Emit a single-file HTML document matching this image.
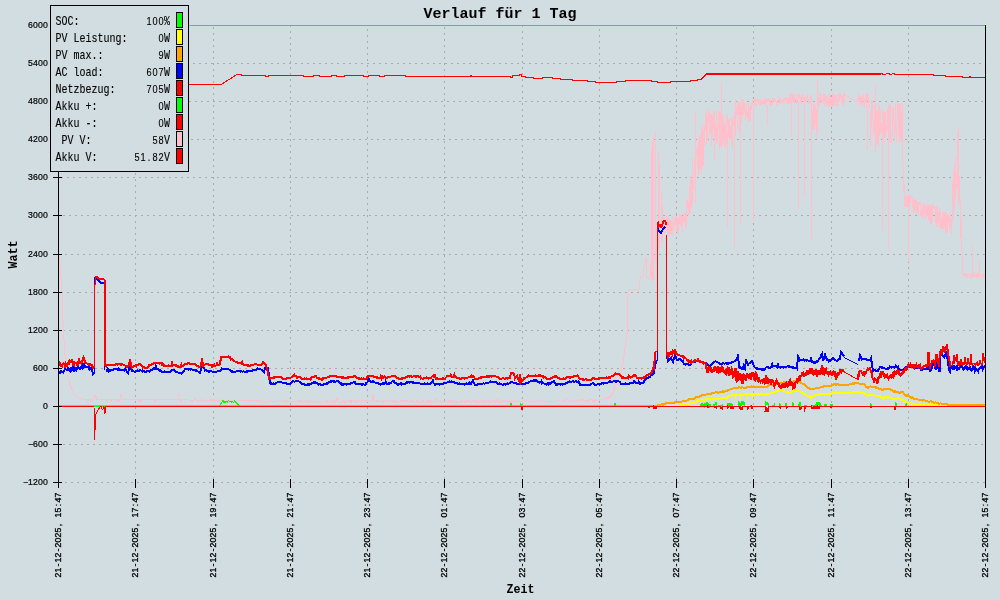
<!DOCTYPE html>
<html><head><meta charset="utf-8"><title>Verlauf für 1 Tag</title>
<style>
html,body{margin:0;padding:0;background:#d2dde1;}
svg{display:block;}
.t{font-family:"Liberation Mono",monospace;}
</style></head><body>
<svg width="1000" height="600" viewBox="0 0 1000 600">
<rect x="0" y="0" width="1000" height="600" fill="#d2dde1"/>
<g stroke="#b0a9aa" stroke-width="1" stroke-dasharray="2 4" shape-rendering="crispEdges"><line x1="58" y1="25.5" x2="985" y2="25.5" stroke-dashoffset="5"/><line x1="58" y1="63.5" x2="985" y2="63.5" stroke-dashoffset="3"/><line x1="58" y1="101.5" x2="985" y2="101.5" stroke-dashoffset="1"/><line x1="58" y1="139.5" x2="985" y2="139.5" stroke-dashoffset="5"/><line x1="58" y1="177.5" x2="985" y2="177.5" stroke-dashoffset="3"/><line x1="58" y1="215.5" x2="985" y2="215.5" stroke-dashoffset="1"/><line x1="58" y1="254.5" x2="985" y2="254.5" stroke-dashoffset="5"/><line x1="58" y1="292.5" x2="985" y2="292.5" stroke-dashoffset="3"/><line x1="58" y1="330.5" x2="985" y2="330.5" stroke-dashoffset="1"/><line x1="58" y1="368.5" x2="985" y2="368.5" stroke-dashoffset="5"/><line x1="58" y1="406.5" x2="985" y2="406.5" stroke-dashoffset="3"/><line x1="58" y1="444.5" x2="985" y2="444.5" stroke-dashoffset="1"/><line x1="58" y1="482.5" x2="985" y2="482.5" stroke-dashoffset="5"/><line x1="135.5" y1="25" x2="135.5" y2="482" stroke-dashoffset="2"/><line x1="213.5" y1="25" x2="213.5" y2="482" stroke-dashoffset="4"/><line x1="290.5" y1="25" x2="290.5" y2="482" stroke-dashoffset="0"/><line x1="367.5" y1="25" x2="367.5" y2="482" stroke-dashoffset="2"/><line x1="444.5" y1="25" x2="444.5" y2="482" stroke-dashoffset="4"/><line x1="522.5" y1="25" x2="522.5" y2="482" stroke-dashoffset="0"/><line x1="599.5" y1="25" x2="599.5" y2="482" stroke-dashoffset="2"/><line x1="676.5" y1="25" x2="676.5" y2="482" stroke-dashoffset="4"/><line x1="753.5" y1="25" x2="753.5" y2="482" stroke-dashoffset="0"/><line x1="831.5" y1="25" x2="831.5" y2="482" stroke-dashoffset="2"/><line x1="908.5" y1="25" x2="908.5" y2="482" stroke-dashoffset="4"/></g>
<line x1="58" y1="25.5" x2="985" y2="25.5" stroke="#00ff00" stroke-width="1" shape-rendering="crispEdges"/>
<polyline points="58.0,406.0 59.0,406.0 60.0,406.0 61.0,406.0 62.0,406.0 63.0,406.0 64.0,406.0 65.0,406.0 66.0,406.0 67.0,406.0 68.0,406.0 69.0,406.0 70.0,406.0 71.0,406.0 72.0,406.0 73.0,406.0 74.0,406.0 75.0,406.0 76.0,406.0 77.0,406.0 78.0,406.0 79.0,406.0 80.0,406.0 81.0,406.0 82.0,406.0 83.0,406.0 84.0,406.0 85.0,406.0 86.0,406.0 87.0,406.0 88.0,406.0 89.0,406.0 90.0,406.0 91.0,406.0 92.0,406.0 93.0,406.0 94.0,406.0 95.0,406.0 96.0,406.0 97.0,406.0 98.0,406.0 99.0,406.0 100.0,406.0 101.0,406.0 102.0,406.0 103.0,406.0 104.0,406.0 105.0,406.0 106.0,406.0 107.0,406.0 108.0,406.0 109.0,406.0 110.0,406.0 111.0,406.0 112.0,406.0 113.0,406.0 114.0,406.0 115.0,406.0 116.0,406.0 117.0,406.0 118.0,406.0 119.0,406.0 120.0,406.0 121.0,406.0 122.0,406.0 123.0,406.0 124.0,406.0 125.0,406.0 126.0,406.0 127.0,406.0 128.0,406.0 129.0,406.0 130.0,406.0 131.0,406.0 132.0,406.0 133.0,406.0 134.0,406.0 135.0,406.0 136.0,406.0 137.0,406.0 138.0,406.0 139.0,406.0 140.0,406.0 141.0,406.0 142.0,406.0 143.0,406.0 144.0,406.0 145.0,406.0 146.0,406.0 147.0,406.0 148.0,406.0 149.0,406.0 150.0,406.0 151.0,406.0 152.0,406.0 153.0,406.0 154.0,406.0 155.0,406.0 156.0,406.0 157.0,406.0 158.0,406.0 159.0,406.0 160.0,406.0 161.0,406.0 162.0,406.0 163.0,406.0 164.0,406.0 165.0,406.0 166.0,406.0 167.0,406.0 168.0,406.0 169.0,406.0 170.0,406.0 171.0,406.0 172.0,406.0 173.0,406.0 174.0,406.0 175.0,406.0 176.0,406.0 177.0,406.0 178.0,406.0 179.0,406.0 180.0,406.0 181.0,406.0 182.0,406.0 183.0,406.0 184.0,406.0 185.0,406.0 186.0,406.0 187.0,406.0 188.0,406.0 189.0,406.0 190.0,406.0 191.0,406.0 192.0,406.0 193.0,406.0 194.0,406.0 195.0,406.0 196.0,406.0 197.0,406.0 198.0,406.0 199.0,406.0 200.0,406.0 201.0,406.0 202.0,406.0 203.0,406.0 204.0,406.0 205.0,406.0 206.0,406.0 207.0,406.0 208.0,406.0 209.0,406.0 210.0,406.0 211.0,406.0 212.0,406.0 213.0,406.0 214.0,406.0 215.0,406.0 216.0,406.0 217.0,406.0 218.0,406.0 219.0,406.0 220.0,406.0 221.0,406.0 222.0,406.0 223.0,406.0 224.0,406.0 225.0,406.0 226.0,406.0 227.0,406.0 228.0,406.0 229.0,406.0 230.0,406.0 231.0,406.0 232.0,406.0 233.0,406.0 234.0,406.0 235.0,406.0 236.0,406.0 237.0,406.0 238.0,406.0 239.0,406.0 240.0,406.0 241.0,406.0 242.0,406.0 243.0,406.0 244.0,406.0 245.0,406.0 246.0,406.0 247.0,406.0 248.0,406.0 249.0,406.0 250.0,406.0 251.0,406.0 252.0,406.0 253.0,406.0 254.0,406.0 255.0,406.0 256.0,406.0 257.0,406.0 258.0,406.0 259.0,406.0 260.0,406.0 261.0,406.0 262.0,406.0 263.0,406.0 264.0,406.0 265.0,406.0 266.0,406.0 267.0,406.0 268.0,406.0 269.0,406.0 270.0,406.0 271.0,406.0 272.0,406.0 273.0,406.0 274.0,406.0 275.0,406.0 276.0,406.0 277.0,406.0 278.0,406.0 279.0,406.0 280.0,406.0 281.0,406.0 282.0,406.0 283.0,406.0 284.0,406.0 285.0,406.0 286.0,406.0 287.0,406.0 288.0,406.0 289.0,406.0 290.0,406.0 291.0,406.0 292.0,406.0 293.0,406.0 294.0,406.0 295.0,406.0 296.0,406.0 297.0,406.0 298.0,406.0 299.0,406.0 300.0,406.0 301.0,406.0 302.0,406.0 303.0,406.0 304.0,406.0 305.0,406.0 306.0,406.0 307.0,406.0 308.0,406.0 309.0,406.0 310.0,406.0 311.0,406.0 312.0,406.0 313.0,406.0 314.0,406.0 315.0,406.0 316.0,406.0 317.0,406.0 318.0,406.0 319.0,406.0 320.0,406.0 321.0,406.0 322.0,406.0 323.0,406.0 324.0,406.0 325.0,406.0 326.0,406.0 327.0,406.0 328.0,406.0 329.0,406.0 330.0,406.0 331.0,406.0 332.0,406.0 333.0,406.0 334.0,406.0 335.0,406.0 336.0,406.0 337.0,406.0 338.0,406.0 339.0,406.0 340.0,406.0 341.0,406.0 342.0,406.0 343.0,406.0 344.0,406.0 345.0,406.0 346.0,406.0 347.0,406.0 348.0,406.0 349.0,406.0 350.0,406.0 351.0,406.0 352.0,406.0 353.0,406.0 354.0,406.0 355.0,406.0 356.0,406.0 357.0,406.0 358.0,406.0 359.0,406.0 360.0,406.0 361.0,406.0 362.0,406.0 363.0,406.0 364.0,406.0 365.0,406.0 366.0,406.0 367.0,406.0 368.0,406.0 369.0,406.0 370.0,406.0 371.0,406.0 372.0,406.0 373.0,406.0 374.0,406.0 375.0,406.0 376.0,406.0 377.0,406.0 378.0,406.0 379.0,406.0 380.0,406.0 381.0,406.0 382.0,406.0 383.0,406.0 384.0,406.0 385.0,406.0 386.0,406.0 387.0,406.0 388.0,406.0 389.0,406.0 390.0,406.0 391.0,406.0 392.0,406.0 393.0,406.0 394.0,406.0 395.0,406.0 396.0,406.0 397.0,406.0 398.0,406.0 399.0,406.0 400.0,406.0 401.0,406.0 402.0,406.0 403.0,406.0 404.0,406.0 405.0,406.0 406.0,406.0 407.0,406.0 408.0,406.0 409.0,406.0 410.0,406.0 411.0,406.0 412.0,406.0 413.0,406.0 414.0,406.0 415.0,406.0 416.0,406.0 417.0,406.0 418.0,406.0 419.0,406.0 420.0,406.0 421.0,406.0 422.0,406.0 423.0,406.0 424.0,406.0 425.0,406.0 426.0,406.0 427.0,406.0 428.0,406.0 429.0,406.0 430.0,406.0 431.0,406.0 432.0,406.0 433.0,406.0 434.0,406.0 435.0,406.0 436.0,406.0 437.0,406.0 438.0,406.0 439.0,406.0 440.0,406.0 441.0,406.0 442.0,406.0 443.0,406.0 444.0,406.0 445.0,406.0 446.0,406.0 447.0,406.0 448.0,406.0 449.0,406.0 450.0,406.0 451.0,406.0 452.0,406.0 453.0,406.0 454.0,406.0 455.0,406.0 456.0,406.0 457.0,406.0 458.0,406.0 459.0,406.0 460.0,406.0 461.0,406.0 462.0,406.0 463.0,406.0 464.0,406.0 465.0,406.0 466.0,406.0 467.0,406.0 468.0,406.0 469.0,406.0 470.0,406.0 471.0,406.0 472.0,406.0 473.0,406.0 474.0,406.0 475.0,406.0 476.0,406.0 477.0,406.0 478.0,406.0 479.0,406.0 480.0,406.0 481.0,406.0 482.0,406.0 483.0,406.0 484.0,406.0 485.0,406.0 486.0,406.0 487.0,406.0 488.0,406.0 489.0,406.0 490.0,406.0 491.0,406.0 492.0,406.0 493.0,406.0 494.0,406.0 495.0,406.0 496.0,406.0 497.0,406.0 498.0,406.0 499.0,406.0 500.0,406.0 501.0,406.0 502.0,406.0 503.0,406.0 504.0,406.0 505.0,406.0 506.0,406.0 507.0,406.0 508.0,406.0 509.0,406.0 510.0,406.0 511.0,406.0 512.0,406.0 513.0,406.0 514.0,406.0 515.0,406.0 516.0,406.0 517.0,406.0 518.0,406.0 519.0,406.0 520.0,406.0 521.0,406.0 522.0,406.0 523.0,406.0 524.0,406.0 525.0,406.0 526.0,406.0 527.0,406.0 528.0,406.0 529.0,406.0 530.0,406.0 531.0,406.0 532.0,406.0 533.0,406.0 534.0,406.0 535.0,406.0 536.0,406.0 537.0,406.0 538.0,406.0 539.0,406.0 540.0,406.0 541.0,406.0 542.0,406.0 543.0,406.0 544.0,406.0 545.0,406.0 546.0,406.0 547.0,406.0 548.0,406.0 549.0,406.0 550.0,406.0 551.0,406.0 552.0,406.0 553.0,406.0 554.0,406.0 555.0,406.0 556.0,406.0 557.0,406.0 558.0,406.0 559.0,406.0 560.0,406.0 561.0,406.0 562.0,406.0 563.0,406.0 564.0,406.0 565.0,406.0 566.0,406.0 567.0,406.0 568.0,406.0 569.0,406.0 570.0,406.0 571.0,406.0 572.0,406.0 573.0,406.0 574.0,406.0 575.0,406.0 576.0,406.0 577.0,406.0 578.0,406.0 579.0,406.0 580.0,406.0 581.0,406.0 582.0,406.0 583.0,406.0 584.0,406.0 585.0,406.0 586.0,406.0 587.0,406.0 588.0,406.0 589.0,406.0 590.0,406.0 591.0,406.0 592.0,406.0 593.0,406.0 594.0,406.0 595.0,406.0 596.0,406.0 597.0,406.0 598.0,406.0 599.0,406.0 600.0,406.0 601.0,406.0 602.0,406.0 603.0,406.0 604.0,406.0 605.0,406.0 606.0,406.0 607.0,406.0 608.0,406.0 609.0,406.0 610.0,406.0 611.0,406.0 612.0,406.0 613.0,406.0 614.0,406.0 615.0,406.0 616.0,406.0 617.0,406.0 618.0,406.0 619.0,406.0 620.0,406.0 621.0,406.0 622.0,406.0 623.0,406.0 624.0,406.0 625.0,406.0 626.0,406.0 627.0,406.0 628.0,406.0 629.0,406.0 630.0,406.0 631.0,406.0 632.0,406.0 633.0,406.0 634.0,406.0 635.0,406.0 636.0,406.0 637.0,406.0 638.0,406.0 639.0,406.0 640.0,406.0 641.0,406.0 642.0,406.0 643.0,406.0 644.0,406.0 645.0,406.0 646.0,406.0 647.0,406.0 648.0,406.0 649.0,406.0 650.0,406.0 651.0,406.0 652.0,406.0 653.0,406.0 654.0,406.0 655.0,406.0 656.0,406.0 657.0,406.0 658.0,406.0 659.0,406.0 660.0,406.0 661.0,406.0 662.0,406.0 663.0,406.0 664.0,406.0 665.0,406.0 666.0,406.0 667.0,406.0 668.0,406.0 669.0,406.0 670.0,406.0 671.0,406.0 672.0,406.0 673.0,406.0 674.0,406.0 675.0,406.0 676.0,406.0 677.0,406.0 678.0,406.0 679.0,406.0 680.0,406.0 681.0,405.2 682.0,404.5 683.0,404.4 684.0,404.2 685.0,404.1 686.0,403.5 687.0,403.6 688.0,404.1 689.0,403.7 690.0,403.5 691.0,402.8 692.0,403.0 693.0,402.9 694.0,402.3 695.0,402.5 696.0,402.5 697.0,401.4 698.0,401.5 699.0,401.3 700.0,401.0 701.0,400.4 702.0,400.1 703.0,399.5 704.0,399.7 705.0,399.9 706.0,399.0 707.0,399.4 708.0,399.4 709.0,398.8 710.0,399.0 711.0,398.4 712.0,399.6 713.0,398.8 714.0,398.8 715.0,399.0 716.0,399.4 717.0,398.9 718.0,398.7 719.0,398.9 720.0,398.5 721.0,397.8 722.0,398.5 723.0,398.0 724.0,397.6 725.0,398.0 726.0,397.9 727.0,397.9 728.0,397.0 729.0,395.9 730.0,395.5 731.0,395.6 732.0,395.1 733.0,395.5 734.0,395.4 735.0,395.0 736.0,394.7 737.0,395.4 738.0,395.2 739.0,395.2 740.0,395.0 741.0,395.3 742.0,394.7 743.0,395.0 744.0,395.1 745.0,394.5 746.0,394.0 747.0,394.9 748.0,394.4 749.0,394.5 750.0,394.5 751.0,394.1 752.0,394.7 753.0,394.3 754.0,394.9 755.0,394.5 756.0,394.2 757.0,394.6 758.0,394.4 759.0,394.6 760.0,394.5 761.0,394.1 762.0,394.1 763.0,394.8 764.0,394.8 765.0,394.5 766.0,394.4 767.0,394.6 768.0,393.5 769.0,394.1 770.0,393.5 771.0,392.7 772.0,393.3 773.0,392.4 774.0,392.0 775.0,391.5 776.0,391.8 777.0,391.2 778.0,390.9 779.0,389.8 780.0,390.0 781.0,390.1 782.0,390.1 783.0,390.5 784.0,390.9 785.0,391.5 786.0,392.2 787.0,391.7 788.0,392.2 789.0,392.7 790.0,393.0 791.0,392.6 792.0,391.9 793.0,390.5 794.0,390.9 795.0,390.4 796.0,390.9 797.0,391.0 798.0,391.4 799.0,390.8 800.0,391.5 801.0,392.2 802.0,392.3 803.0,393.1 804.0,393.7 805.0,394.0 806.0,394.9 807.0,395.4 808.0,396.1 809.0,396.3 810.0,397.3 811.0,398.0 812.0,396.8 813.0,396.5 814.0,395.8 815.0,395.0 816.0,395.2 817.0,394.7 818.0,394.1 819.0,394.6 820.0,394.5 821.0,393.9 822.0,394.4 823.0,393.8 824.0,393.6 825.0,393.5 826.0,394.1 827.0,393.6 828.0,393.6 829.0,393.7 830.0,394.0 831.0,393.7 832.0,392.9 833.0,393.2 834.0,393.3 835.0,392.5 836.0,392.7 837.0,393.0 838.0,393.3 839.0,393.3 840.0,393.0 841.0,393.3 842.0,393.4 843.0,393.4 844.0,392.7 845.0,393.0 846.0,392.8 847.0,392.7 848.0,393.1 849.0,392.8 850.0,393.0 851.0,393.0 852.0,392.8 853.0,392.2 854.0,392.4 855.0,392.2 856.0,392.5 857.0,391.6 858.0,392.0 859.0,391.8 860.0,392.4 861.0,392.5 862.0,393.0 863.0,393.0 864.0,393.3 865.0,394.0 866.0,394.4 867.0,395.5 868.0,395.9 869.0,394.9 870.0,395.0 871.0,394.7 872.0,394.9 873.0,395.1 874.0,395.1 875.0,395.5 876.0,395.6 877.0,396.2 878.0,395.4 879.0,395.8 880.0,396.0 881.0,397.0 882.0,398.1 883.0,398.5 884.0,398.3 885.0,397.0 886.0,396.7 887.0,397.2 888.0,397.8 889.0,396.9 890.0,397.5 891.0,398.1 892.0,398.1 893.0,399.0 894.0,399.1 895.0,398.5 896.0,399.1 897.0,398.7 898.0,398.2 899.0,398.4 900.0,399.0 901.0,399.3 902.0,400.2 903.0,399.9 904.0,400.8 905.0,401.0 906.0,401.9 907.0,403.0 908.0,402.9 909.0,403.6 910.0,403.5 911.0,403.4 912.0,403.5 913.0,404.1 914.0,403.9 915.0,404.0 916.0,404.4 917.0,404.2 918.0,403.9 919.0,404.3 920.0,404.5 921.0,405.0 922.0,404.7 923.0,405.2 924.0,404.1 925.0,404.8 926.0,404.8 927.0,404.9 928.0,404.9 929.0,404.9 930.0,405.0 931.0,405.0 932.0,405.1 933.0,405.1 934.0,405.1 935.0,405.2 936.0,405.2 937.0,405.2 938.0,405.3 939.0,405.3 940.0,405.3 941.0,405.4 942.0,405.4 943.0,405.4 944.0,405.5 945.0,405.5 946.0,405.6 947.0,405.7 948.0,405.8 949.0,405.9 950.0,406.0 951.0,406.0 952.0,406.0 953.0,406.0 954.0,406.0 955.0,406.0 956.0,406.0 957.0,406.0 958.0,406.0 959.0,406.0 960.0,406.0 961.0,406.0 962.0,406.0 963.0,406.0 964.0,406.0 965.0,406.0 966.0,406.0 967.0,406.0 968.0,406.0 969.0,406.0 970.0,406.0 971.0,406.0 972.0,406.0 973.0,406.0 974.0,406.0 975.0,406.0 976.0,406.0 977.0,406.0 978.0,406.0 979.0,406.0 980.0,406.0 981.0,406.0 982.0,406.0 983.0,406.0 984.0,406.0 985.0,406.0" fill="none" stroke="#ffff00" stroke-width="2" shape-rendering="crispEdges"/>
<line x1="735" y1="395" x2="735" y2="399" stroke="#ffff00" stroke-width="1" shape-rendering="crispEdges"/>
<line x1="740" y1="395" x2="740" y2="399.5" stroke="#ffff00" stroke-width="1" shape-rendering="crispEdges"/>
<line x1="747" y1="394.5" x2="747" y2="399" stroke="#ffff00" stroke-width="1" shape-rendering="crispEdges"/>
<line x1="752" y1="394.5" x2="752" y2="399" stroke="#ffff00" stroke-width="1" shape-rendering="crispEdges"/>
<line x1="811" y1="395" x2="811" y2="399.5" stroke="#ffff00" stroke-width="1" shape-rendering="crispEdges"/>
<line x1="883" y1="396" x2="883" y2="399.5" stroke="#ffff00" stroke-width="1" shape-rendering="crispEdges"/>
<polyline points="58.0,406.0 59.0,406.0 60.0,406.0 61.0,406.0 62.0,406.0 63.0,406.0 64.0,406.0 65.0,406.0 66.0,406.0 67.0,406.0 68.0,406.0 69.0,406.0 70.0,406.0 71.0,406.0 72.0,406.0 73.0,406.0 74.0,406.0 75.0,406.0 76.0,406.0 77.0,406.0 78.0,406.0 79.0,406.0 80.0,406.0 81.0,406.0 82.0,406.0 83.0,406.0 84.0,406.0 85.0,406.0 86.0,406.0 87.0,406.0 88.0,406.0 89.0,406.0 90.0,406.0 91.0,406.0 92.0,406.0 93.0,406.0 94.0,406.0 95.0,406.0 96.0,406.0 97.0,406.0 98.0,406.0 99.0,406.0 100.0,406.0 101.0,406.0 102.0,406.0 103.0,406.0 104.0,406.0 105.0,406.0 106.0,406.0 107.0,406.0 108.0,406.0 109.0,406.0 110.0,406.0 111.0,406.0 112.0,406.0 113.0,406.0 114.0,406.0 115.0,406.0 116.0,406.0 117.0,406.0 118.0,406.0 119.0,406.0 120.0,406.0 121.0,406.0 122.0,406.0 123.0,406.0 124.0,406.0 125.0,406.0 126.0,406.0 127.0,406.0 128.0,406.0 129.0,406.0 130.0,406.0 131.0,406.0 132.0,406.0 133.0,406.0 134.0,406.0 135.0,406.0 136.0,406.0 137.0,406.0 138.0,406.0 139.0,406.0 140.0,406.0 141.0,406.0 142.0,406.0 143.0,406.0 144.0,406.0 145.0,406.0 146.0,406.0 147.0,406.0 148.0,406.0 149.0,406.0 150.0,406.0 151.0,406.0 152.0,406.0 153.0,406.0 154.0,406.0 155.0,406.0 156.0,406.0 157.0,406.0 158.0,406.0 159.0,406.0 160.0,406.0 161.0,406.0 162.0,406.0 163.0,406.0 164.0,406.0 165.0,406.0 166.0,406.0 167.0,406.0 168.0,406.0 169.0,406.0 170.0,406.0 171.0,406.0 172.0,406.0 173.0,406.0 174.0,406.0 175.0,406.0 176.0,406.0 177.0,406.0 178.0,406.0 179.0,406.0 180.0,406.0 181.0,406.0 182.0,406.0 183.0,406.0 184.0,406.0 185.0,406.0 186.0,406.0 187.0,406.0 188.0,406.0 189.0,406.0 190.0,406.0 191.0,406.0 192.0,406.0 193.0,406.0 194.0,406.0 195.0,406.0 196.0,406.0 197.0,406.0 198.0,406.0 199.0,406.0 200.0,406.0 201.0,406.0 202.0,406.0 203.0,406.0 204.0,406.0 205.0,406.0 206.0,406.0 207.0,406.0 208.0,406.0 209.0,406.0 210.0,406.0 211.0,406.0 212.0,406.0 213.0,406.0 214.0,406.0 215.0,406.0 216.0,406.0 217.0,406.0 218.0,406.0 219.0,406.0 220.0,406.0 221.0,406.0 222.0,406.0 223.0,406.0 224.0,406.0 225.0,406.0 226.0,406.0 227.0,406.0 228.0,406.0 229.0,406.0 230.0,406.0 231.0,406.0 232.0,406.0 233.0,406.0 234.0,406.0 235.0,406.0 236.0,406.0 237.0,406.0 238.0,406.0 239.0,406.0 240.0,406.0 241.0,406.0 242.0,406.0 243.0,406.0 244.0,406.0 245.0,406.0 246.0,406.0 247.0,406.0 248.0,406.0 249.0,406.0 250.0,406.0 251.0,406.0 252.0,406.0 253.0,406.0 254.0,406.0 255.0,406.0 256.0,406.0 257.0,406.0 258.0,406.0 259.0,406.0 260.0,406.0 261.0,406.0 262.0,406.0 263.0,406.0 264.0,406.0 265.0,406.0 266.0,406.0 267.0,406.0 268.0,406.0 269.0,406.0 270.0,406.0 271.0,406.0 272.0,406.0 273.0,406.0 274.0,406.0 275.0,406.0 276.0,406.0 277.0,406.0 278.0,406.0 279.0,406.0 280.0,406.0 281.0,406.0 282.0,406.0 283.0,406.0 284.0,406.0 285.0,406.0 286.0,406.0 287.0,406.0 288.0,406.0 289.0,406.0 290.0,406.0 291.0,406.0 292.0,406.0 293.0,406.0 294.0,406.0 295.0,406.0 296.0,406.0 297.0,406.0 298.0,406.0 299.0,406.0 300.0,406.0 301.0,406.0 302.0,406.0 303.0,406.0 304.0,406.0 305.0,406.0 306.0,406.0 307.0,406.0 308.0,406.0 309.0,406.0 310.0,406.0 311.0,406.0 312.0,406.0 313.0,406.0 314.0,406.0 315.0,406.0 316.0,406.0 317.0,406.0 318.0,406.0 319.0,406.0 320.0,406.0 321.0,406.0 322.0,406.0 323.0,406.0 324.0,406.0 325.0,406.0 326.0,406.0 327.0,406.0 328.0,406.0 329.0,406.0 330.0,406.0 331.0,406.0 332.0,406.0 333.0,406.0 334.0,406.0 335.0,406.0 336.0,406.0 337.0,406.0 338.0,406.0 339.0,406.0 340.0,406.0 341.0,406.0 342.0,406.0 343.0,406.0 344.0,406.0 345.0,406.0 346.0,406.0 347.0,406.0 348.0,406.0 349.0,406.0 350.0,406.0 351.0,406.0 352.0,406.0 353.0,406.0 354.0,406.0 355.0,406.0 356.0,406.0 357.0,406.0 358.0,406.0 359.0,406.0 360.0,406.0 361.0,406.0 362.0,406.0 363.0,406.0 364.0,406.0 365.0,406.0 366.0,406.0 367.0,406.0 368.0,406.0 369.0,406.0 370.0,406.0 371.0,406.0 372.0,406.0 373.0,406.0 374.0,406.0 375.0,406.0 376.0,406.0 377.0,406.0 378.0,406.0 379.0,406.0 380.0,406.0 381.0,406.0 382.0,406.0 383.0,406.0 384.0,406.0 385.0,406.0 386.0,406.0 387.0,406.0 388.0,406.0 389.0,406.0 390.0,406.0 391.0,406.0 392.0,406.0 393.0,406.0 394.0,406.0 395.0,406.0 396.0,406.0 397.0,406.0 398.0,406.0 399.0,406.0 400.0,406.0 401.0,406.0 402.0,406.0 403.0,406.0 404.0,406.0 405.0,406.0 406.0,406.0 407.0,406.0 408.0,406.0 409.0,406.0 410.0,406.0 411.0,406.0 412.0,406.0 413.0,406.0 414.0,406.0 415.0,406.0 416.0,406.0 417.0,406.0 418.0,406.0 419.0,406.0 420.0,406.0 421.0,406.0 422.0,406.0 423.0,406.0 424.0,406.0 425.0,406.0 426.0,406.0 427.0,406.0 428.0,406.0 429.0,406.0 430.0,406.0 431.0,406.0 432.0,406.0 433.0,406.0 434.0,406.0 435.0,406.0 436.0,406.0 437.0,406.0 438.0,406.0 439.0,406.0 440.0,406.0 441.0,406.0 442.0,406.0 443.0,406.0 444.0,406.0 445.0,406.0 446.0,406.0 447.0,406.0 448.0,406.0 449.0,406.0 450.0,406.0 451.0,406.0 452.0,406.0 453.0,406.0 454.0,406.0 455.0,406.0 456.0,406.0 457.0,406.0 458.0,406.0 459.0,406.0 460.0,406.0 461.0,406.0 462.0,406.0 463.0,406.0 464.0,406.0 465.0,406.0 466.0,406.0 467.0,406.0 468.0,406.0 469.0,406.0 470.0,406.0 471.0,406.0 472.0,406.0 473.0,406.0 474.0,406.0 475.0,406.0 476.0,406.0 477.0,406.0 478.0,406.0 479.0,406.0 480.0,406.0 481.0,406.0 482.0,406.0 483.0,406.0 484.0,406.0 485.0,406.0 486.0,406.0 487.0,406.0 488.0,406.0 489.0,406.0 490.0,406.0 491.0,406.0 492.0,406.0 493.0,406.0 494.0,406.0 495.0,406.0 496.0,406.0 497.0,406.0 498.0,406.0 499.0,406.0 500.0,406.0 501.0,406.0 502.0,406.0 503.0,406.0 504.0,406.0 505.0,406.0 506.0,406.0 507.0,406.0 508.0,406.0 509.0,406.0 510.0,406.0 511.0,406.0 512.0,406.0 513.0,406.0 514.0,406.0 515.0,406.0 516.0,406.0 517.0,406.0 518.0,406.0 519.0,406.0 520.0,406.0 521.0,406.0 522.0,406.0 523.0,406.0 524.0,406.0 525.0,406.0 526.0,406.0 527.0,406.0 528.0,406.0 529.0,406.0 530.0,406.0 531.0,406.0 532.0,406.0 533.0,406.0 534.0,406.0 535.0,406.0 536.0,406.0 537.0,406.0 538.0,406.0 539.0,406.0 540.0,406.0 541.0,406.0 542.0,406.0 543.0,406.0 544.0,406.0 545.0,406.0 546.0,406.0 547.0,406.0 548.0,406.0 549.0,406.0 550.0,406.0 551.0,406.0 552.0,406.0 553.0,406.0 554.0,406.0 555.0,406.0 556.0,406.0 557.0,406.0 558.0,406.0 559.0,406.0 560.0,406.0 561.0,406.0 562.0,406.0 563.0,406.0 564.0,406.0 565.0,406.0 566.0,406.0 567.0,406.0 568.0,406.0 569.0,406.0 570.0,406.0 571.0,406.0 572.0,406.0 573.0,406.0 574.0,406.0 575.0,406.0 576.0,406.0 577.0,406.0 578.0,406.0 579.0,406.0 580.0,406.0 581.0,406.0 582.0,406.0 583.0,406.0 584.0,406.0 585.0,406.0 586.0,406.0 587.0,406.0 588.0,406.0 589.0,406.0 590.0,406.0 591.0,406.0 592.0,406.0 593.0,406.0 594.0,406.0 595.0,406.0 596.0,406.0 597.0,406.0 598.0,406.0 599.0,406.0 600.0,406.0 601.0,406.0 602.0,406.0 603.0,406.0 604.0,406.0 605.0,406.0 606.0,406.0 607.0,406.0 608.0,406.0 609.0,406.0 610.0,406.0 611.0,406.0 612.0,406.0 613.0,406.0 614.0,406.0 615.0,406.0 616.0,406.0 617.0,406.0 618.0,406.0 619.0,406.0 620.0,406.0 621.0,406.0 622.0,406.0 623.0,406.0 624.0,406.0 625.0,406.0 626.0,406.0 627.0,406.0 628.0,406.0 629.0,406.0 630.0,406.0 631.0,406.0 632.0,406.0 633.0,406.0 634.0,406.0 635.0,406.0 636.0,406.0 637.0,406.0 638.0,406.0 639.0,406.0 640.0,406.0 641.0,406.0 642.0,406.0 643.0,406.0 644.0,406.0 645.0,406.0 646.0,406.0 647.0,406.0 648.0,406.0 649.0,406.0 650.0,406.0 651.0,406.0 652.0,406.0 653.0,406.0 654.0,406.0 655.0,406.0 656.0,405.8 657.0,405.5 658.0,405.2 659.0,405.0 660.0,404.8 661.0,404.5 662.0,404.3 663.0,404.7 664.0,404.0 665.0,404.4 666.0,403.2 667.0,403.6 668.0,403.2 669.0,403.5 670.0,403.0 671.0,402.5 672.0,403.1 673.0,402.6 674.0,402.9 675.0,402.2 676.0,402.0 677.0,402.3 678.0,402.4 679.0,401.5 680.0,401.5 681.0,401.9 682.0,401.6 683.0,400.6 684.0,400.9 685.0,400.8 686.0,400.9 687.0,400.4 688.0,400.0 689.0,399.3 690.0,399.4 691.0,399.1 692.0,398.8 693.0,398.5 694.0,398.7 695.0,397.6 696.0,397.1 697.0,397.1 698.0,396.9 699.0,396.9 700.0,396.0 701.0,395.8 702.0,395.1 703.0,395.6 704.0,394.8 705.0,394.5 706.0,394.6 707.0,394.3 708.0,393.9 709.0,394.3 710.0,394.0 711.0,394.0 712.0,393.0 713.0,393.1 714.0,392.6 715.0,392.5 716.0,392.0 717.0,392.0 718.0,392.8 719.0,392.6 720.0,392.0 721.0,391.8 722.0,392.1 723.0,391.2 724.0,392.1 725.0,391.5 726.0,391.1 727.0,391.1 728.0,390.0 729.0,389.8 730.0,389.5 731.0,389.0 732.0,389.5 733.0,388.5 734.0,388.3 735.0,388.0 736.0,388.4 737.0,388.3 738.0,387.6 739.0,387.4 740.0,387.5 741.0,387.9 742.0,387.0 743.0,387.4 744.0,388.0 745.0,387.5 746.0,387.8 747.0,386.8 748.0,386.4 749.0,387.0 750.0,386.5 751.0,386.7 752.0,386.4 753.0,386.8 754.0,386.4 755.0,387.0 756.0,387.2 757.0,387.0 758.0,387.2 759.0,386.5 760.0,387.0 761.0,387.2 762.0,386.8 763.0,387.0 764.0,386.8 765.0,387.2 766.0,387.1 767.0,387.0 768.0,386.5 769.0,385.1 770.0,385.0 771.0,384.7 772.0,384.5 773.0,384.9 774.0,385.0 775.0,385.0 776.0,384.1 777.0,384.4 778.0,383.8 779.0,383.4 780.0,383.0 781.0,382.9 782.0,383.1 783.0,382.5 784.0,381.7 785.0,382.0 786.0,381.8 787.0,382.6 788.0,382.4 789.0,383.1 790.0,383.0 791.0,382.6 792.0,382.1 793.0,382.1 794.0,381.0 795.0,381.0 796.0,380.9 797.0,381.2 798.0,381.5 799.0,382.3 800.0,382.0 801.0,383.0 802.0,383.6 803.0,384.0 804.0,383.8 805.0,385.0 806.0,385.6 807.0,386.8 808.0,388.2 809.0,388.4 810.0,389.5 811.0,389.4 812.0,389.5 813.0,388.7 814.0,389.0 815.0,388.5 816.0,388.4 817.0,388.1 818.0,388.1 819.0,387.7 820.0,387.5 821.0,386.6 822.0,387.2 823.0,386.9 824.0,386.3 825.0,385.5 826.0,385.5 827.0,386.1 828.0,386.4 829.0,385.8 830.0,386.5 831.0,386.3 832.0,385.0 833.0,385.5 834.0,384.2 835.0,384.0 836.0,384.7 837.0,383.9 838.0,384.3 839.0,384.8 840.0,384.5 841.0,385.2 842.0,384.9 843.0,385.2 844.0,384.8 845.0,385.0 846.0,385.1 847.0,384.5 848.0,384.9 849.0,384.5 850.0,384.0 851.0,383.7 852.0,383.9 853.0,382.9 854.0,383.7 855.0,383.0 856.0,383.2 857.0,382.8 858.0,383.0 859.0,383.4 860.0,383.8 861.0,383.9 862.0,384.0 863.0,384.6 864.0,384.2 865.0,384.5 866.0,387.0 867.0,387.3 868.0,388.0 869.0,387.1 870.0,386.5 871.0,386.4 872.0,386.7 873.0,387.2 874.0,387.0 875.0,387.6 876.0,387.4 877.0,387.7 878.0,387.5 879.0,388.7 880.0,388.9 881.0,388.9 882.0,390.0 883.0,389.8 884.0,388.8 885.0,389.0 886.0,389.0 887.0,389.3 888.0,388.5 889.0,388.7 890.0,389.0 891.0,390.2 892.0,389.8 893.0,391.0 894.0,391.8 895.0,391.1 896.0,392.2 897.0,392.0 898.0,392.3 899.0,392.9 900.0,393.5 901.0,392.1 902.0,391.5 903.0,392.1 904.0,394.1 905.0,395.0 906.0,395.7 907.0,395.3 908.0,396.3 909.0,396.3 910.0,397.0 911.0,397.8 912.0,397.2 913.0,398.0 914.0,398.7 915.0,398.5 916.0,398.7 917.0,399.1 918.0,399.5 919.0,399.5 920.0,399.5 921.0,400.1 922.0,399.6 923.0,400.6 924.0,400.3 925.0,400.5 926.0,401.2 927.0,401.1 928.0,401.4 929.0,401.8 930.0,401.5 931.0,401.2 932.0,402.3 933.0,401.9 934.0,402.7 935.0,402.5 936.0,402.4 937.0,402.9 938.0,402.7 939.0,403.7 940.0,403.5 941.0,403.4 942.0,403.7 943.0,404.2 944.0,403.7 945.0,404.0 946.0,404.6 947.0,404.2 948.0,404.8 949.0,404.7 950.0,404.5 951.0,404.6 952.0,404.7 953.0,404.8 954.0,404.9 955.0,405.0 956.0,405.0 957.0,405.0 958.0,405.0 959.0,405.0 960.0,405.0 961.0,405.0 962.0,405.0 963.0,405.0 964.0,405.0 965.0,405.0 966.0,405.0 967.0,405.0 968.0,405.0 969.0,405.0 970.0,405.0 971.0,405.0 972.0,405.0 973.0,405.0 974.0,405.0 975.0,405.0 976.0,405.0 977.0,405.0 978.0,405.0 979.0,405.0 980.0,405.0 981.0,405.0 982.0,405.0 983.0,405.0 984.0,405.0 985.0,405.0" fill="none" stroke="#ffa500" stroke-width="2" shape-rendering="crispEdges"/>
<g shape-rendering="crispEdges"><polyline points="59.5,254.0 60.3,270.0 61.4,277.0 63.3,330.0 65.8,368.0 68.3,379.0 70.8,387.0 73.3,393.0 77.5,397.5 83.0,399.5 84.0,399.5 85.0,399.5 86.0,399.5 87.0,399.5 88.0,401.5 89.0,399.5 90.0,399.5 91.0,401.5 92.0,401.5 93.0,399.5 94.0,399.5 95.0,395.5 96.0,396.5 97.0,399.5 98.0,399.5 99.0,399.5 100.0,399.5 101.0,399.5 102.0,399.5 103.0,399.5 104.0,399.5 105.0,399.5 106.0,399.5 107.0,401.5 108.0,399.5 109.0,399.5 110.0,399.5 111.0,401.5 112.0,399.5 113.0,399.5 114.0,399.5 115.0,399.5 116.0,399.5 117.0,401.5 118.0,399.5 119.0,401.5 120.0,399.5 121.0,394.5 122.0,399.5 123.0,399.5 124.0,399.5 125.0,399.5 126.0,399.5 127.0,399.5 128.0,399.5 129.0,399.5 130.0,399.5 131.0,399.5 132.0,399.5 133.0,399.5 134.0,399.5 135.0,399.5 136.0,399.5 137.0,399.5 138.0,399.5 139.0,401.5 140.0,399.5 141.0,401.5 142.0,399.5 143.0,399.5 144.0,399.5 145.0,399.5 146.0,399.5 147.0,399.5 148.0,399.5 149.0,399.5 150.0,399.5 151.0,399.5 152.0,399.5 153.0,399.5 154.0,399.5 155.0,401.5 156.0,399.5 157.0,399.5 158.0,399.5 159.0,399.5 160.0,399.5 161.0,399.5 162.0,399.5 163.0,399.5 164.0,399.5 165.0,399.5 166.0,399.5 167.0,399.5 168.0,399.5 169.0,399.5 170.0,399.5 171.0,399.5 172.0,399.5 173.0,399.5 174.0,399.5 175.0,399.5 176.0,399.5 177.0,399.5 178.0,399.5 178.5,394.5 179.0,399.5 180.0,399.5 181.0,401.6 182.0,399.6 183.0,399.7 184.0,399.7 185.0,399.8 186.0,399.8 187.0,399.9 188.0,399.9 189.0,400.0 190.0,400.0 191.0,400.1 192.0,402.1 193.0,400.2 194.0,400.2 195.0,398.3 196.0,400.3 197.0,400.4 198.0,400.4 199.0,400.5 200.0,400.5 201.0,400.5 202.0,399.5 203.0,401.5 204.0,401.5 205.0,401.6 206.0,400.6 207.0,400.6 208.0,400.6 209.0,400.6 210.0,399.6 211.0,400.6 212.0,399.6 213.0,401.6 214.0,399.6 215.0,400.6 216.0,400.7 217.0,399.7 218.0,401.7 219.0,400.7 220.0,401.7 221.0,399.7 222.0,400.7 223.0,400.7 224.0,400.7 225.0,399.8 226.0,400.8 227.0,400.8 228.0,401.8 229.0,399.8 230.0,400.8 231.0,399.8 232.0,401.8 233.0,400.8 234.0,400.8 235.0,401.9 236.0,400.9 237.0,401.9 238.0,400.9 239.0,400.9 240.0,400.9 241.0,399.9 242.0,400.9 243.0,401.9 244.0,400.9 245.0,400.9 246.0,400.0 247.0,401.0 248.0,400.0 249.0,402.0 250.0,400.0 251.0,401.0 252.0,400.0 253.0,401.0 254.0,400.0 255.0,401.1 256.0,400.1 257.0,402.1 258.0,400.1 259.0,400.1 260.0,401.1 261.0,400.1 262.0,402.1 263.0,402.1 264.0,401.1 265.0,401.1 266.0,401.2 267.0,401.2 268.0,401.2 269.0,401.2 270.0,401.2 271.0,400.2 272.0,402.2 273.0,401.2 274.0,402.2 275.0,401.2 276.0,401.3 277.0,402.3 278.0,401.3 279.0,400.3 280.0,401.3 281.0,400.3 282.0,402.3 283.0,401.3 284.0,400.3 285.0,401.4 286.0,402.4 287.0,400.4 288.0,401.4 289.0,401.4 290.0,401.4 291.0,402.4 292.0,401.4 293.0,401.4 294.0,401.4 295.0,401.4 296.0,401.5 297.0,401.5 298.0,400.5 299.0,400.5 300.0,401.5 301.0,400.5 302.0,402.5 303.0,401.5 304.0,401.5 305.0,401.5 306.0,400.5 307.0,402.5 308.0,402.5 309.0,400.5 310.0,401.5 311.0,401.5 312.0,401.5 313.0,401.5 314.0,402.5 315.0,401.5 316.0,401.5 317.0,401.5 318.0,401.5 319.0,401.5 320.0,402.5 321.0,401.5 322.0,401.5 323.0,401.5 324.0,401.5 325.0,401.5 326.0,402.5 327.0,400.5 328.0,401.5 329.0,401.5 330.0,401.5 331.0,401.5 332.0,402.5 333.0,400.5 334.0,400.5 335.0,402.5 336.0,401.5 337.0,397.5 338.0,401.5 339.0,401.5 340.0,401.5 341.0,402.5 342.0,402.5 343.0,400.5 344.0,401.5 345.0,402.5 346.0,401.5 347.0,401.5 348.0,401.5 349.0,400.5 350.0,400.5 351.0,402.5 352.0,400.5 353.0,400.5 354.0,400.5 355.0,401.5 356.0,402.5 357.0,401.5 358.0,400.5 359.0,401.5 360.0,401.5 361.0,401.5 362.0,400.5 363.0,400.5 364.0,400.5 365.0,401.5 366.0,400.5 367.0,401.5 368.0,401.5 369.0,401.5 370.0,401.5 371.0,400.5 372.0,401.5 373.0,394.5 374.0,401.5 375.0,401.5 376.0,400.5 377.0,401.5 378.0,400.5 379.0,401.5 380.0,401.5 381.0,401.5 382.0,400.5 383.0,402.5 384.0,401.5 385.0,400.5 386.0,400.5 387.0,401.5 388.0,401.5 389.0,401.5 390.0,401.5 391.0,400.5 392.0,400.5 393.0,401.5 394.0,402.5 395.0,400.5 396.0,401.5 397.0,402.5 398.0,401.5 399.0,401.5 400.0,401.5 401.0,400.5 402.0,401.5 403.0,400.5 404.0,401.5 405.0,400.5 406.0,400.5 407.0,400.5 408.0,401.5 409.0,401.5 410.0,401.5 411.0,401.5 412.0,400.5 413.0,402.5 414.0,401.5 415.0,402.5 416.0,402.5 417.0,400.5 418.0,401.5 419.0,401.5 420.0,402.5 421.0,402.5 422.0,401.5 423.0,400.5 424.0,402.5 425.0,402.5 426.0,401.5 427.0,401.5 428.0,400.5 429.0,402.5 430.0,400.5 431.0,401.5 432.0,402.5 433.0,401.5 434.0,401.5 435.0,401.5 436.0,399.5 437.0,401.5 438.0,401.5 439.0,401.5 440.0,400.5 441.0,401.5 442.0,402.5 443.0,401.5 444.0,402.5 445.0,401.5 446.0,401.5 447.0,401.5 448.0,401.5 449.0,400.5 450.0,402.5 451.0,400.5 452.0,401.5 453.0,400.5 454.0,402.5 455.0,401.5 456.0,401.5 457.0,402.5 458.0,401.5 459.0,401.5 460.0,401.5 461.0,402.5 462.0,400.5 463.0,401.5 464.0,401.5 465.0,402.5 466.0,400.5 467.0,401.5 468.0,400.5 469.0,401.5 470.0,401.5 471.0,402.5 472.0,401.5 473.0,400.5 474.0,400.5 475.0,402.5 476.0,400.5 477.0,402.5 478.0,402.5 479.0,401.5 480.0,400.5 481.0,401.5 482.0,401.5 483.0,400.5 484.0,402.5 485.0,402.5 486.0,400.5 487.0,401.5 488.0,401.5 489.0,400.5 490.0,402.5 491.0,402.5 492.0,400.5 493.0,400.5 494.0,400.5 495.0,402.5 496.0,401.5 497.0,399.5 498.0,401.5 499.0,402.5 500.0,402.5 501.0,401.5 502.0,400.5 503.0,401.5 504.0,401.4 505.0,401.4 506.0,400.4 507.0,400.4 508.0,401.4 509.0,402.4 510.0,400.4 511.0,402.4 512.0,401.4 513.0,400.4 514.0,402.3 515.0,401.3 516.0,401.3 517.0,400.3 518.0,402.3 519.0,401.3 520.0,401.3 521.0,401.3 522.0,402.3 523.0,401.3 524.0,400.2 525.0,400.2 526.0,401.2 527.0,401.2 528.0,400.2 529.0,401.2 530.0,402.2 531.0,401.2 532.0,401.2 533.0,401.2 534.0,402.1 535.0,402.1 536.0,400.1 537.0,401.1 538.0,401.1 539.0,401.1 540.0,400.1 541.0,400.1 542.0,401.1 543.0,401.1 544.0,401.0 545.0,402.0 546.0,402.0 547.0,401.0 548.0,402.0 549.0,401.0 550.0,402.0 551.0,401.0 552.0,401.0 553.0,401.0 554.0,401.0 555.0,401.9 556.0,401.9 557.0,400.9 558.0,399.9 559.0,400.9 560.0,400.9 561.0,401.9 562.0,401.9 563.0,400.9 564.0,399.9 565.0,401.8 566.0,399.8 567.0,399.8 568.0,399.8 569.0,401.8 570.0,400.8 571.0,400.8 572.0,400.8 573.0,400.8 574.0,400.8 575.0,401.7 576.0,401.7 577.0,399.7 578.0,400.7 579.0,400.7 580.0,400.7 581.0,399.7 582.0,399.7 583.0,400.7 584.0,399.7 585.0,401.6 586.0,401.6 587.0,400.6 588.0,400.6 589.0,401.6 590.0,399.6 591.0,399.6 592.0,399.6 593.0,401.6 594.0,400.6 595.0,401.5 596.0,399.5 597.0,400.5 598.0,400.5 599.0,399.5 600.0,400.5 605.0,398.5 610.0,398.0 614.0,391.0 618.0,383.0 621.0,372.0 623.0,363.0 625.0,348.0 627.5,330.0 627.5,300.0 629.0,289.5 639.0,289.5 640.0,279.0 643.0,275.0 645.0,262.0 646.0,258.0 647.0,278.0 650.0,278.0 651.0,265.0" fill="none" stroke="#ffc0cb" stroke-width="1" /><polyline points="605.0,398.5 611.0,396.0 613.5,391.0 614.5,383.0 616.0,372.0" fill="none" stroke="#ffc0cb" stroke-width="1" /><line x1="651.5" y1="150" x2="651.5" y2="280" stroke="#ffc0cb" stroke-width="1"/><line x1="652.5" y1="140" x2="652.5" y2="282" stroke="#ffc0cb" stroke-width="1"/><line x1="653.5" y1="135" x2="653.5" y2="280" stroke="#ffc0cb" stroke-width="1"/><line x1="655" y1="132" x2="655" y2="262" stroke="#ffc0cb" stroke-width="1"/><line x1="658.5" y1="150" x2="658.5" y2="250" stroke="#ffc0cb" stroke-width="1"/><line x1="659.5" y1="165" x2="659.5" y2="250" stroke="#ffc0cb" stroke-width="1"/><line x1="661.5" y1="190" x2="661.5" y2="242" stroke="#ffc0cb" stroke-width="1"/><line x1="662.5" y1="205" x2="662.5" y2="242" stroke="#ffc0cb" stroke-width="1"/><polyline points="663.0,229.7 663.3,219.8 663.7,223.3 664.0,217.1 664.3,217.6 664.7,218.9 665.0,219.2 665.3,233.4 665.7,220.2 666.0,232.9 666.3,216.3 666.7,216.8 667.0,216.8 667.3,235.1 667.7,232.3 668.0,216.0 668.3,234.9 668.7,219.2 669.0,219.8 669.3,226.4 669.7,218.6 670.0,235.5 670.3,221.5 670.7,225.8 671.0,225.7 671.3,219.6 671.7,229.3 672.0,235.4 672.3,225.9 672.7,215.9 673.0,230.6 673.3,227.3 673.7,223.3 674.0,226.8 674.3,218.5 674.7,219.2 675.0,223.5 675.3,215.0 675.7,224.9 676.0,216.7 676.3,217.9 676.7,231.9 677.0,224.6 677.3,217.5 677.7,226.9 678.0,233.8 678.3,231.3 678.7,228.9 679.0,218.8 679.3,223.9 679.7,223.8 680.0,214.2 680.3,226.1 680.7,222.2 681.0,222.2 681.3,226.8 681.7,213.7 682.0,215.8 682.3,232.4 682.7,217.3 683.0,216.4 683.3,213.2 683.7,217.3 684.0,222.2 684.3,212.6 684.7,216.6 685.0,215.9 685.3,212.0 685.7,224.6 686.0,228.1 686.3,225.7 686.7,210.7 687.0,199.6 687.3,204.5 687.7,208.1 688.0,201.8 688.3,212.2 688.7,211.3 689.0,216.2 689.3,197.7 689.7,187.5 690.0,213.6 690.3,211.2 690.7,177.5 691.0,178.4 691.3,196.5 691.7,203.3 692.0,207.6 692.3,159.3 692.7,164.4 693.0,174.0 693.3,179.2 693.7,190.1 694.0,176.9 694.3,173.6 694.7,159.2 695.0,177.8 695.3,172.9 695.7,190.9 696.0,152.3 696.3,148.6 696.7,156.9 697.0,154.4 697.3,158.9 697.7,145.6 698.0,168.5 698.3,173.0 698.7,136.8 699.0,174.7 699.3,136.8 699.7,143.6 700.0,156.6 700.3,150.1 700.7,134.4 701.0,168.7 701.3,174.3 701.7,131.4 702.0,126.9 702.3,145.3 702.7,123.9 703.0,166.2 703.3,157.9 703.7,154.1 704.0,130.5 704.3,146.0 704.7,126.3 705.0,127.2 705.3,114.0 705.7,111.5 706.0,131.5 706.3,113.3 706.7,144.0 707.0,127.2 707.3,127.7 707.7,141.3 708.0,117.1 708.3,108.5 708.7,114.5 709.0,123.1 709.3,112.4 709.7,116.7 710.0,134.6 710.3,120.2 710.7,119.0 711.0,115.2 711.3,126.2 711.7,145.8 712.0,113.3 712.3,139.1 712.7,136.2 713.0,129.1 713.3,126.8 713.7,125.9 714.0,111.5 714.3,127.9 714.7,145.5 715.0,134.4 715.3,124.0 715.7,123.2 716.0,140.4 716.3,109.6 716.7,114.8 717.0,144.1 717.3,131.5 717.7,138.6 718.0,126.8 718.3,110.6 718.7,126.9 719.0,130.6 719.3,111.9 719.7,124.9 720.0,149.3 720.3,113.4 720.7,113.0 721.0,114.6 721.3,137.3 721.7,146.9 722.0,116.3 722.3,144.7 722.7,118.6 723.0,131.0 723.3,140.9 723.7,115.1 724.0,128.5 724.3,145.7 724.7,123.5 725.0,142.5 725.3,127.5 725.7,149.3 726.0,125.3 726.3,143.6 726.7,113.8 727.0,122.9 727.3,116.0 727.7,125.5 728.0,125.5 728.3,119.2 728.7,126.1 729.0,137.3 729.3,132.7 729.7,119.3 730.0,138.6 730.3,138.5 730.7,126.2 731.0,127.7 731.3,116.9 731.7,144.2 732.0,123.6 732.3,121.2 732.7,148.6 733.0,121.6 733.3,117.7 733.7,124.6 734.0,117.0 734.3,121.3 734.7,111.9 735.0,124.4 735.3,98.7 735.7,135.7 736.0,114.5 736.3,113.9 736.7,113.8 737.0,107.1 737.3,129.8 737.7,114.0 738.0,101.1 738.3,109.9 738.7,115.2 739.0,110.3 739.3,101.5 739.7,132.4 740.0,103.0 740.3,125.1 740.7,112.7 741.0,115.4 741.3,122.7 741.7,99.7 742.0,115.1 742.3,113.9 742.7,112.8 743.0,99.6 743.3,99.9 743.7,115.0 744.0,113.7 744.3,109.4 744.7,102.6 745.0,108.8 745.3,116.1 745.7,119.7 746.0,118.1 746.3,102.0 746.7,107.9 747.0,111.1 747.3,118.7 747.7,112.6 748.0,118.0 748.3,115.2 748.7,102.9 749.0,121.7 749.3,111.9 749.7,112.7 750.0,105.8 750.3,119.0 750.7,120.9 751.0,107.2 751.3,109.8 751.7,102.7 752.0,104.8 752.3,103.7 752.7,100.4 753.0,105.3 753.3,102.8 753.7,106.2 754.0,105.2 754.3,99.4 754.7,100.3 755.0,105.4 755.3,99.0 755.7,99.5 756.0,106.0 756.3,105.0 756.7,100.3 757.0,100.9 757.3,98.9 757.7,99.4 758.0,98.7 758.3,102.9 758.7,103.1 759.0,99.4 759.3,105.0 759.7,102.0 760.0,102.9 760.3,103.4 760.7,99.7 761.0,104.7 761.3,101.3 761.7,102.0 762.0,99.1 762.3,100.0 762.7,101.6 763.0,103.9 763.3,101.5 763.7,102.4 764.0,104.1 764.3,101.0 764.7,98.4 765.0,102.3 765.3,105.8 765.7,98.4 766.0,101.4 766.3,103.1 766.7,101.6 767.0,98.7 767.3,101.8 767.7,98.6 768.0,98.5 768.3,100.3 768.7,99.1 769.0,101.6 769.3,105.6 769.7,99.3 770.0,105.9 770.3,100.3 770.7,104.5 771.0,101.7 771.3,103.9 771.7,104.7 772.0,104.5 772.3,98.7 772.7,104.9 773.0,98.5 773.3,103.4 773.7,98.1 774.0,99.7 774.3,98.5 774.7,102.3 775.0,99.8 775.3,101.8 775.7,99.0 776.0,100.4 776.3,104.8 776.7,102.0 777.0,101.1 777.3,103.1 777.7,105.6 778.0,99.8 778.3,98.2 778.7,99.0 779.0,98.4 779.3,100.3 779.7,103.1 780.0,103.3 780.3,98.1 780.7,98.4 781.0,99.8 781.3,104.0 781.7,100.8 782.0,101.2 782.3,99.2 782.7,101.3 783.0,101.7 783.3,99.5 783.7,101.7 784.0,103.0 784.3,99.6 784.7,100.4 785.0,98.0 785.3,98.8 785.7,97.4 786.0,97.5 786.3,97.6 786.7,104.2 787.0,102.7 787.3,101.3 787.7,103.2 788.0,98.1 788.3,99.4 788.7,101.2 789.0,103.7 789.3,100.9 789.7,97.7 790.0,93.3 790.3,93.2 790.7,100.9 791.0,102.6 791.3,94.2 791.7,101.6 792.0,93.4 792.3,101.9 792.7,100.3 793.0,97.6 793.3,97.7 793.7,95.1 794.0,103.1 794.3,95.6 794.7,95.6 795.0,101.2 795.3,98.9 795.7,98.3 796.0,98.9 796.3,94.3 796.7,94.3 797.0,103.7 797.3,100.4 797.7,99.4 798.0,98.9 798.3,95.6 798.7,94.9 799.0,99.2 799.3,93.9 799.7,94.0 800.0,96.7 800.3,99.2 800.7,103.2 801.0,97.9 801.3,96.4 801.7,103.5 802.0,96.4 802.3,98.2 802.7,98.2 803.0,94.4 803.3,94.9 803.7,94.3 804.0,101.6 804.3,97.3 804.7,100.4 805.0,98.0 805.3,98.5 805.7,102.5 806.0,97.6 806.3,95.1 806.7,100.4 807.0,94.7 807.3,98.8 807.7,97.4 808.0,98.0 808.3,101.0 808.7,102.2 809.0,103.6 809.3,101.6 809.7,102.0 810.0,103.3 810.3,97.8 810.7,97.4 811.0,95.0 811.3,98.4 811.7,95.3 812.0,109.7 812.3,116.4 812.7,116.4 813.0,130.1 813.3,118.3 813.7,127.7 814.0,104.4 814.3,128.3 814.7,130.0 815.0,104.2 815.3,114.2 815.7,124.9 816.0,107.3 816.3,131.8 816.7,138.8 817.0,130.9 817.3,124.3 817.7,130.9 818.0,106.0 818.3,106.3 818.7,96.7 819.0,101.3 819.3,93.8 819.7,105.6 820.0,93.5 820.3,96.1 820.7,100.2 821.0,95.3 821.3,98.0 821.7,97.0 822.0,101.6 822.3,99.4 822.7,104.2 823.0,100.9 823.3,102.5 823.7,93.1 824.0,101.7 824.3,105.5 824.7,94.3 825.0,103.4 825.3,103.5 825.7,93.7 826.0,100.8 826.3,96.5 826.7,97.2 827.0,106.9 827.3,100.1 827.7,98.8 828.0,103.7 828.3,97.5 828.7,94.2 829.0,106.7 829.3,94.6 829.7,105.4 830.0,106.6 830.3,98.6 830.7,94.1 831.0,98.5 831.3,99.7 831.7,103.5 832.0,107.0 832.3,95.6 832.7,93.2 833.0,106.7 833.3,93.0 833.7,106.4 834.0,105.2 834.3,105.3 834.7,97.7 835.0,95.0 835.3,100.6 835.7,98.1 836.0,102.3 836.3,94.9 836.7,98.7 837.0,105.6 837.3,100.4 837.7,105.8 838.0,102.9 838.3,94.3 838.7,101.3 839.0,94.8 839.3,93.6 839.7,100.6 840.0,93.0 840.3,93.4 840.7,97.5 841.0,94.8 841.3,101.6 841.7,96.0 842.0,95.5 842.3,99.9 842.7,99.5 843.0,104.5 843.3,104.0 843.7,105.9 844.0,94.0 844.3,93.4 844.7,102.9 845.0,95.0 845.3,95.2 845.7,95.4 846.0,95.6 846.3,95.8 846.7,96.0 847.0,96.2 847.3,96.3 847.7,96.5 848.0,96.7 848.3,96.9 848.7,97.1 849.0,97.3 849.3,97.5 849.7,97.7 850.0,97.9 850.3,98.1 850.7,98.3 851.0,98.5 851.3,98.7 851.7,98.8 852.0,99.0 852.3,99.2 852.7,99.4 853.0,99.6 853.3,99.8 853.7,100.0 854.0,100.2 854.3,100.4 854.7,100.6 855.0,100.8 855.3,101.0 855.7,101.2 856.0,101.3 856.3,101.5 856.7,101.7 857.0,101.9 857.3,102.1 857.7,102.3 858.0,98.7 858.3,93.5 858.7,100.9 859.0,97.3 859.3,95.7 859.7,103.4 860.0,104.7 860.3,96.4 860.7,103.4 861.0,95.9 861.3,107.7 861.7,98.6 862.0,99.9 862.3,95.0 862.7,99.8 863.0,96.6 863.3,105.7 863.7,94.5 864.0,101.0 864.3,98.7 864.7,108.2 865.0,103.2 865.3,101.5 865.7,94.7 866.0,94.1 866.3,102.3 866.7,108.4 867.0,93.8 867.3,99.0 867.7,98.2 868.0,93.2 868.3,102.7 868.7,99.8 869.0,100.1 869.3,106.6 869.7,102.6 870.0,108.7 870.3,145.7 870.7,143.7 871.0,130.9 871.3,103.9 871.7,127.7 872.0,100.0 872.3,110.7 872.7,117.7 873.0,119.0 873.3,136.1 873.7,123.9 874.0,128.5 874.3,118.4 874.7,133.0 875.0,106.4 875.3,142.2 875.7,138.9 876.0,143.0 876.3,145.2 876.7,135.8 877.0,110.9 877.3,143.1 877.7,137.3 878.0,119.5 878.3,103.0 878.7,146.5 879.0,107.5 879.3,105.8 879.7,123.6 880.0,136.4 880.3,111.3 880.7,109.1 881.0,132.9 881.3,123.2 881.7,123.3 882.0,124.5 882.3,134.0 882.7,132.7 883.0,111.1 883.3,114.8 883.7,142.9 884.0,135.4 884.3,122.1 884.7,113.2 885.0,138.3 885.3,111.8 885.7,118.9 886.0,124.4 886.3,132.1 886.7,129.4 887.0,128.5 887.3,109.1 887.7,113.9 888.0,131.3 888.3,123.7 888.7,138.8 889.0,104.7 889.3,142.2 889.7,120.1 890.0,112.3 890.3,105.5 890.7,104.6 891.0,142.6 891.3,133.0 891.7,142.0 892.0,135.8 892.3,117.6 892.7,108.5 893.0,122.0 893.3,110.2 893.7,107.4 894.0,122.8 894.3,123.4 894.7,142.3 895.0,133.8 895.3,103.3 895.7,107.8 896.0,122.9 896.3,129.4 896.7,142.5 897.0,122.5 897.3,119.1 897.7,103.2 898.0,117.7 898.3,136.5 898.7,104.3 899.0,121.5 899.3,140.6 899.7,141.2 900.0,103.3 900.3,112.7 900.7,108.6 901.0,142.1 901.3,133.5 901.7,111.3 902.0,115.8 902.3,128.0 902.7,103.5 903.0,166.3 903.3,192.0 903.7,179.8 904.0,182.7 904.3,201.0 904.7,199.3 905.0,207.1 905.3,205.9 905.7,201.0 906.0,195.7 906.3,204.7 906.7,202.1 907.0,205.7 907.3,204.8 907.7,207.2 908.0,194.8 908.3,196.4 908.7,209.7 909.0,205.9 909.3,209.7 909.7,195.5 910.0,203.2 910.3,195.3 910.7,197.3 911.0,196.0 911.3,198.1 911.7,199.3 912.0,196.7 912.3,206.9 912.7,205.8 913.0,208.0 913.3,214.4 913.7,200.6 914.0,200.1 914.3,201.3 914.7,211.6 915.0,208.4 915.3,210.6 915.7,200.8 916.0,199.3 916.3,205.4 916.7,214.6 917.0,201.8 917.3,211.9 917.7,210.8 918.0,204.2 918.3,211.1 918.7,216.2 919.0,201.8 919.3,202.8 919.7,205.4 920.0,202.0 920.3,205.9 920.7,213.0 921.0,216.0 921.3,211.9 921.7,209.4 922.0,218.1 922.3,202.9 922.7,213.3 923.0,206.8 923.3,219.2 923.7,203.6 924.0,204.8 924.3,202.6 924.7,209.1 925.0,214.3 925.3,206.1 925.7,219.6 926.0,217.4 926.3,206.2 926.7,213.3 927.0,214.6 927.3,204.2 927.7,214.8 928.0,214.5 928.3,220.4 928.7,207.7 929.0,204.9 929.3,213.3 929.7,220.8 930.0,205.1 930.3,206.8 930.7,205.1 931.0,224.8 931.3,219.4 931.7,205.3 932.0,221.9 932.3,212.4 932.7,204.8 933.0,205.4 933.3,208.9 933.7,205.4 934.0,207.7 934.3,206.0 934.7,207.5 935.0,206.9 935.3,213.5 935.7,223.4 936.0,222.5 936.3,216.4 936.7,207.0 937.0,227.3 937.3,207.3 937.7,206.7 938.0,222.6 938.3,219.7 938.7,223.2 939.0,212.0 939.3,227.1 939.7,226.8 940.0,208.1 940.3,229.4 940.7,224.6 941.0,227.0 941.3,217.7 941.7,225.8 942.0,229.1 942.3,228.9 942.7,213.7 943.0,211.6 943.3,222.9 943.7,218.0 944.0,228.8 944.3,218.5 944.7,212.1 945.0,217.0 945.3,232.5 945.7,225.4 946.0,212.9 946.3,213.4 946.7,218.0 947.0,232.8 947.3,221.5 947.7,215.8 948.0,214.7 948.3,215.6 948.7,222.7 949.0,215.1 949.3,213.1 949.7,230.9 950.0,226.5 950.3,225.1 950.7,216.8 951.0,220.9 951.3,233.5 951.7,217.4 952.0,221.7 952.3,214.3 952.7,220.9 953.0,182.1 953.3,207.3 953.7,217.2 954.0,171.5 954.3,180.2 954.7,210.4 955.0,163.0 955.3,198.3 955.7,155.8 956.0,171.8 956.3,190.9 956.7,189.5 957.0,188.7 957.3,151.8 957.7,164.3 958.0,133.3 958.3,204.7 958.7,190.5 959.0,175.4 959.3,189.3 959.7,201.9 960.0,198.5 960.3,205.7 960.7,237.5 961.0,217.6 961.3,250.3 961.7,245.0 962.0,250.7 962.3,258.7 962.7,262.4 963.0,274.3 963.3,275.0 963.7,273.1 964.0,273.0 964.3,273.0 964.7,275.8 965.0,273.0 965.3,277.7 965.7,275.8 966.0,276.4 966.3,273.1 966.7,275.2 967.0,273.8 967.3,277.5 967.7,274.4 968.0,273.7 968.3,274.8 968.7,274.3 969.0,273.5 969.3,276.7 969.7,273.8 970.0,277.5 970.3,276.5 970.7,277.2 971.0,276.4 971.3,277.3 971.7,277.7 972.0,273.0 972.3,274.0 972.7,277.4 973.0,275.4 973.3,277.5 973.7,275.0 974.0,274.4 974.3,277.0 974.7,274.0 975.0,274.7 975.3,277.0 975.7,274.6 976.0,276.0 976.3,273.5 976.7,273.8 977.0,277.9 977.3,273.7 977.7,273.6 978.0,273.0 978.3,273.2 978.7,274.7 979.0,275.8 979.3,277.3 979.7,277.9 980.0,274.4 980.3,275.2 980.7,274.7 981.0,275.0 981.3,277.1 981.7,274.7 982.0,276.5 982.3,277.2 982.7,274.7 983.0,274.4 983.3,273.3 983.7,276.1 984.0,276.8 984.3,275.9 984.7,274.1 985.0,276.0" fill="none" stroke="#ffc0cb" stroke-width="1" /><line x1="695.4" y1="113" x2="695.4" y2="203" stroke="#ffc0cb" stroke-width="1"/><line x1="714" y1="120" x2="714" y2="161" stroke="#ffc0cb" stroke-width="1"/><line x1="721.5" y1="81.5" x2="721.5" y2="130" stroke="#ffc0cb" stroke-width="1"/><line x1="727" y1="130" x2="727" y2="227" stroke="#ffc0cb" stroke-width="1"/><line x1="734" y1="120" x2="734" y2="247" stroke="#ffc0cb" stroke-width="1"/><line x1="740" y1="120" x2="740" y2="224" stroke="#ffc0cb" stroke-width="1"/><line x1="753" y1="105" x2="753" y2="221" stroke="#ffc0cb" stroke-width="1"/><line x1="767" y1="105" x2="767" y2="125" stroke="#ffc0cb" stroke-width="1"/><line x1="791" y1="100" x2="791" y2="137" stroke="#ffc0cb" stroke-width="1"/><line x1="798.6" y1="100" x2="798.6" y2="209" stroke="#ffc0cb" stroke-width="1"/><line x1="804.6" y1="100" x2="804.6" y2="196" stroke="#ffc0cb" stroke-width="1"/><line x1="811.5" y1="100" x2="811.5" y2="239" stroke="#ffc0cb" stroke-width="1"/><line x1="817.5" y1="80" x2="817.5" y2="110" stroke="#ffc0cb" stroke-width="1"/><line x1="867" y1="105" x2="867" y2="150" stroke="#ffc0cb" stroke-width="1"/><line x1="875" y1="85" x2="875" y2="152" stroke="#ffc0cb" stroke-width="1"/><line x1="882" y1="110" x2="882" y2="230" stroke="#ffc0cb" stroke-width="1"/><line x1="888" y1="110" x2="888" y2="250" stroke="#ffc0cb" stroke-width="1"/><line x1="908" y1="200" x2="908" y2="262" stroke="#ffc0cb" stroke-width="1"/><line x1="958" y1="127" x2="958" y2="200" stroke="#ffc0cb" stroke-width="1"/><line x1="972" y1="246" x2="972" y2="276" stroke="#ffc0cb" stroke-width="1"/><line x1="979" y1="260" x2="979" y2="276" stroke="#ffc0cb" stroke-width="1"/></g>
<polyline points="59.0,373.5 59.8,372.6 60.5,372.8 61.2,371.0 62.0,372.3 63.0,372.5 64.0,370.8 65.0,368.8 66.0,369.4 67.0,369.9 68.0,368.2 69.0,370.2 70.0,371.0 70.7,367.0 71.4,370.6 72.1,369.8 72.9,366.9 73.6,366.5 74.3,372.0 75.0,367.6 75.7,368.2 76.4,369.6 77.1,368.1 77.9,365.6 78.6,367.0 79.3,368.0 80.0,369.0 80.8,368.0 81.5,366.7 82.2,364.8 83.0,367.7 84.0,364.4 85.0,366.9 85.8,366.5 86.5,367.2 87.2,367.0 88.0,366.8 88.8,367.2 89.5,369.6 90.2,368.6 91.0,368.1 92.0,369.4 93.0,374.1 94.0,373.5" fill="none" stroke="#0000ff" stroke-width="2" shape-rendering="crispEdges"/>
<line x1="94.5" y1="374" x2="94.5" y2="278" stroke="#0000ff" stroke-width="1" shape-rendering="crispEdges"/>
<polyline points="95.0,277.0 99.0,281.0 101.0,283.0 104.0,283.0" fill="none" stroke="#0000ff" stroke-width="2" shape-rendering="crispEdges"/>
<line x1="104.5" y1="283" x2="104.5" y2="370" stroke="#0000ff" stroke-width="1" shape-rendering="crispEdges"/>
<polyline points="105.5,370.2 106.2,370.2 107.0,370.7 107.8,368.7 108.5,371.1 109.2,370.4 110.0,370.8 110.7,370.1 111.4,370.0 112.1,370.5 112.9,370.0 113.6,369.2 114.3,369.4 115.0,369.1 115.7,368.9 116.4,369.1 117.1,369.5 117.9,369.6 118.6,368.4 119.3,369.6 120.0,369.8 120.8,369.8 121.5,369.7 122.2,370.0 123.0,370.2 123.8,369.6 124.5,370.3 125.2,368.7 126.0,370.3 127.0,372.0 128.0,373.3 129.0,369.1 130.0,365.9 131.0,368.1 132.0,371.1 132.8,371.2 133.5,371.3 134.2,371.6 135.0,371.5 135.7,371.8 136.4,371.0 137.1,371.3 137.9,370.5 138.6,370.9 139.3,370.5 140.0,370.2 140.7,370.2 141.4,370.7 142.1,370.4 142.9,371.6 143.6,371.2 144.3,371.2 145.0,372.0 145.7,372.0 146.4,371.2 147.1,371.5 147.9,371.3 148.6,370.8 149.3,371.6 150.0,371.1 150.8,370.1 151.5,370.1 152.2,369.6 153.0,368.7 153.7,368.4 154.4,368.3 155.1,368.8 155.9,366.3 156.6,369.1 157.3,369.3 158.0,369.4 158.7,370.1 159.4,370.5 160.1,370.2 160.9,370.5 161.6,371.2 162.3,372.1 163.0,372.1 163.7,372.3 164.4,371.7 165.1,372.4 165.8,372.2 166.5,372.3 167.2,372.3 167.9,371.7 168.6,372.1 169.3,371.8 170.0,371.8 170.8,371.0 171.5,370.5 172.2,369.5 173.0,369.5 173.8,369.8 174.5,370.8 175.2,371.5 176.0,372.0 176.8,372.1 177.6,372.1 178.4,372.7 179.2,373.5 180.0,373.0 180.8,373.2 181.5,373.5 182.2,372.9 183.0,372.5 184.0,370.6 185.0,369.2 185.7,368.7 186.4,368.8 187.1,369.1 187.9,368.8 188.6,369.4 189.3,368.9 190.0,369.0 190.7,369.6 191.4,369.1 192.1,369.6 192.9,369.6 193.6,369.8 194.3,369.7 195.0,370.1 195.7,369.9 196.4,371.1 197.1,371.2 197.9,371.5 198.6,371.7 199.3,372.8 200.0,373.0 201.0,369.0 202.0,364.6 202.8,366.3 203.5,367.9 204.2,368.3 205.0,370.5 205.7,370.1 206.4,370.6 207.1,370.7 207.9,371.0 208.6,371.5 209.3,371.5 210.0,371.0 210.8,371.1 211.5,371.3 212.2,371.6 213.0,371.6 213.7,372.2 214.4,372.2 215.1,371.5 215.8,371.8 216.5,371.7 217.2,371.3 217.9,371.1 218.6,371.4 219.3,370.8 220.0,370.7 221.0,369.7 222.0,368.4 222.8,368.9 223.5,369.1 224.2,369.2 225.0,368.6 225.8,368.7 226.5,368.6 227.2,368.8 228.0,369.2 229.0,369.5 230.0,369.7 231.0,370.9 232.0,372.4 232.7,371.6 233.5,372.1 234.2,371.6 234.9,372.0 235.6,371.7 236.4,371.2 237.1,371.0 237.8,371.0 238.5,371.0 239.3,371.4 240.0,370.9 240.7,371.5 241.4,371.4 242.1,371.6 242.9,371.6 243.6,371.3 244.3,371.8 245.0,372.0 245.7,371.7 246.4,371.9 247.1,371.2 247.9,371.6 248.6,371.4 249.3,371.3 250.0,370.7 250.7,370.9 251.4,371.2 252.1,370.9 252.9,370.0 253.6,370.4 254.3,370.0 255.0,369.9 255.8,370.1 256.5,368.9 257.2,369.3 258.0,368.4 258.8,368.9 259.6,369.1 260.4,369.1 261.2,369.6 262.0,370.0 263.0,370.7 264.0,372.0 265.0,367.7 265.8,367.8 266.5,368.0 267.2,368.6 268.0,368.5 269.0,376.5 270.0,383.6 270.7,384.0 271.4,383.2 272.1,383.8 272.9,383.7 273.6,383.5 274.3,384.2 275.0,383.9 275.8,383.6 276.6,382.7 277.4,382.4 278.2,381.9 279.0,382.5 279.8,382.1 280.5,381.9 281.2,382.4 282.0,382.6 282.8,382.9 283.5,383.1 284.2,383.3 285.0,383.6 285.7,383.2 286.4,383.3 287.1,384.0 287.9,384.1 288.6,384.3 289.3,384.0 290.0,384.4 291.0,383.1 292.0,381.9 292.8,381.4 293.5,381.3 294.2,381.5 295.0,381.5 295.7,381.3 296.4,381.1 297.1,381.3 297.9,381.1 298.6,381.4 299.3,381.5 300.0,382.1 300.8,382.4 301.5,383.2 302.2,384.3 303.0,384.2 303.7,384.5 304.4,384.3 305.1,385.0 305.8,384.9 306.5,384.6 307.2,384.8 307.9,384.0 308.6,384.9 309.3,384.9 310.0,384.1 310.7,383.9 311.4,383.8 312.1,383.3 312.9,382.9 313.6,383.2 314.3,382.0 315.0,382.0 315.8,382.7 316.5,382.6 317.2,383.6 318.0,383.5 318.8,384.4 319.6,384.2 320.4,384.1 321.2,385.1 322.0,385.1 322.8,384.9 323.5,384.4 324.2,384.0 325.0,383.5 325.8,384.0 326.5,383.0 327.2,383.6 328.0,383.3 329.0,382.0 330.0,381.7 330.7,381.1 331.5,381.6 332.2,381.0 332.9,381.3 333.6,381.5 334.4,381.4 335.1,381.8 335.8,381.6 336.5,381.2 337.3,381.1 338.0,381.2 338.8,382.4 339.6,382.3 340.4,383.8 341.2,383.6 342.0,384.7 342.7,384.0 343.5,384.6 344.2,384.5 344.9,384.0 345.6,384.2 346.4,384.5 347.1,383.8 347.8,384.3 348.5,384.1 349.3,384.4 350.0,384.2 350.8,383.3 351.6,383.4 352.4,382.9 353.2,382.5 354.0,381.9 354.8,382.1 355.5,383.3 356.2,383.8 357.0,384.4 357.7,384.1 358.5,384.1 359.2,384.5 359.9,384.2 360.6,384.0 361.4,384.7 362.1,384.3 362.8,384.6 363.5,384.2 364.3,384.7 365.0,385.0 365.8,384.1 366.5,382.7 367.2,382.5 368.0,381.3 368.7,379.0 369.4,381.2 370.1,381.6 370.8,381.3 371.5,381.7 372.2,381.4 372.9,382.3 373.6,381.5 374.3,381.9 375.0,382.5 375.7,382.5 376.4,383.0 377.1,382.7 377.9,382.9 378.6,383.2 379.3,383.9 380.0,383.8 380.7,384.4 381.4,383.8 382.1,383.5 382.9,384.3 383.6,383.4 384.3,383.6 385.0,383.5 385.7,381.7 386.4,383.7 387.1,383.5 387.9,383.8 388.6,383.4 389.3,383.8 390.0,383.0 390.8,382.9 391.5,381.9 392.2,381.5 393.0,381.3 393.8,381.1 394.5,382.2 395.2,382.9 396.0,383.3 397.0,384.2 398.0,384.9 399.0,384.3 400.0,384.1 400.7,383.1 401.4,384.5 402.1,384.2 402.9,383.9 403.6,383.6 404.3,384.0 405.0,383.8 405.8,383.4 406.5,382.5 407.2,382.6 408.0,381.7 408.7,381.8 409.4,382.4 410.1,381.9 410.8,382.3 411.5,382.3 412.2,382.4 412.9,382.8 413.6,382.3 414.4,383.1 415.1,383.3 415.8,383.0 416.5,383.4 417.2,383.1 417.9,383.1 418.6,383.4 419.3,383.2 420.0,383.5 420.7,384.0 421.4,384.0 422.1,383.5 422.9,383.6 423.6,383.6 424.3,383.3 425.0,383.7 425.7,384.0 426.4,384.0 427.1,383.4 427.9,384.3 428.6,384.0 429.3,384.1 430.0,383.9 431.0,383.1 432.0,382.2 432.8,380.4 433.5,383.3 434.2,383.7 435.0,384.9 435.7,384.8 436.4,384.0 437.1,384.1 437.9,384.4 438.6,384.1 439.3,384.6 440.0,384.3 440.7,384.4 441.4,383.8 442.1,383.8 442.9,383.8 443.6,383.1 444.3,382.7 445.0,383.3 445.8,383.1 446.5,382.6 447.2,382.4 448.0,381.7 448.7,382.2 449.4,381.6 450.1,382.3 450.9,382.1 451.6,381.5 452.3,382.1 453.0,382.1 453.7,382.3 454.4,382.1 455.1,382.9 455.9,383.2 456.6,382.9 457.3,383.7 458.0,383.7 458.7,383.8 459.4,383.4 460.1,384.1 460.8,383.7 461.5,384.0 462.2,383.8 462.9,383.6 463.6,384.0 464.3,384.4 465.0,383.6 465.8,384.0 466.5,383.6 467.2,384.2 468.0,384.3 468.8,383.5 469.5,382.4 470.2,384.4 471.0,384.2 472.0,382.2 473.0,380.6 474.0,383.1 475.0,384.6 475.7,384.5 476.4,384.7 477.1,384.7 477.9,384.4 478.6,383.7 479.3,383.8 480.0,384.1 480.7,384.1 481.4,383.9 482.1,383.8 482.8,383.6 483.5,383.1 484.2,383.6 484.9,383.6 485.6,383.4 486.3,382.9 487.0,382.9 487.8,382.8 488.5,382.8 489.2,382.3 490.0,382.4 490.7,381.7 491.4,382.4 492.1,382.4 492.9,381.8 493.6,381.9 494.3,382.2 495.0,381.8 495.7,381.8 496.4,382.7 497.1,382.9 497.9,383.6 498.6,383.6 499.3,383.3 500.0,383.8 500.7,383.8 501.4,384.0 502.1,384.5 502.9,384.7 503.6,384.5 504.3,384.0 505.0,384.4 505.7,384.7 506.4,383.9 507.1,384.0 507.9,383.4 508.6,383.8 509.3,383.4 510.0,383.2 510.8,382.3 511.5,382.1 512.2,382.3 513.0,382.4 513.7,382.7 514.4,382.8 515.1,382.7 515.9,382.9 516.6,383.7 517.3,384.1 518.0,384.1 519.0,384.4 520.0,384.3 520.7,384.4 521.4,383.9 522.1,384.4 522.9,384.5 523.6,384.0 524.3,384.5 525.0,384.4 525.8,383.4 526.5,383.1 527.2,382.5 528.0,382.7 528.8,382.4 529.6,381.8 530.4,381.1 531.2,380.7 532.0,380.4 532.7,380.9 533.4,380.6 534.1,381.2 534.9,380.3 535.6,380.9 536.3,380.5 537.0,381.0 537.8,381.7 538.5,381.7 539.2,382.6 540.0,382.2 540.7,382.3 541.4,381.0 542.1,383.4 542.9,383.0 543.6,383.4 544.3,383.6 545.0,383.9 545.7,383.6 546.4,384.3 547.1,383.5 547.9,383.2 548.6,384.1 549.3,383.4 550.0,383.9 551.0,382.7 552.0,382.1 553.0,381.7 554.0,381.2 555.0,383.4 556.0,384.8 556.8,384.1 557.5,384.5 558.2,384.3 559.0,383.9 559.8,384.1 560.5,384.6 561.2,384.5 562.0,384.0 562.8,384.6 563.5,384.4 564.2,384.3 565.0,383.9 565.8,383.2 566.5,383.3 567.2,382.8 568.0,381.9 568.7,381.6 569.4,381.5 570.1,381.9 570.8,381.8 571.5,381.8 572.2,381.4 572.9,381.3 573.6,382.0 574.3,381.6 575.0,381.5 575.8,381.2 576.6,382.2 577.4,381.9 578.2,381.5 579.0,382.3 580.0,384.8 580.7,385.4 581.4,385.4 582.1,385.2 582.9,385.1 583.6,384.8 584.3,385.4 585.0,385.0 585.7,385.3 586.4,385.3 587.1,385.2 587.9,385.1 588.6,385.0 589.3,384.7 590.0,384.8 590.8,384.1 591.5,383.9 592.2,383.5 593.0,382.9 594.0,384.5 595.0,385.4 595.7,385.0 596.4,384.7 597.1,384.5 597.9,384.3 598.6,383.8 599.3,384.6 600.0,383.9 600.7,384.0 601.4,383.6 602.1,383.3 602.8,383.5 603.5,383.5 604.2,383.1 604.9,383.4 605.6,383.4 606.3,383.0 607.0,383.5 607.8,382.5 608.5,382.4 609.2,382.3 610.0,381.0 610.7,381.5 611.4,381.9 612.1,381.8 612.9,381.5 613.6,381.3 614.3,381.1 615.0,381.0 615.7,381.9 616.4,381.3 617.1,381.3 617.9,381.4 618.6,381.4 619.3,381.5 620.0,381.8 621.0,384.0 621.7,383.7 622.5,383.8 623.2,383.7 623.9,383.9 624.7,383.9 625.4,383.1 626.1,383.8 626.9,383.6 627.6,384.0 628.3,383.7 629.1,383.6 629.8,383.1 630.5,383.3 631.3,383.4 632.0,383.4 633.0,382.7 634.0,381.3 635.0,382.1 636.0,383.4 636.7,383.0 637.4,383.1 638.1,383.3 638.8,381.6 639.5,383.2 640.2,383.9 640.9,383.2 641.6,383.2 642.3,383.5 643.0,383.4 644.0,381.6 645.0,379.6 645.8,378.8 646.5,379.2 647.2,378.1 648.0,377.7 648.8,377.3 649.5,377.2 650.2,376.3 651.0,375.5 651.8,375.3 652.5,374.4 653.2,374.0 654.0,373.1 655.0,366.0 656.0,362.0 657.0,360.0" fill="none" stroke="#0000ff" stroke-width="2" shape-rendering="crispEdges"/>
<line x1="657.5" y1="360" x2="657.5" y2="227" stroke="#0000ff" stroke-width="1" shape-rendering="crispEdges"/>
<polyline points="657.5,227.0 657.5,231.0 659.0,231.0 661.0,233.0 663.0,229.0 665.0,227.0" fill="none" stroke="#0000ff" stroke-width="2" shape-rendering="crispEdges"/>
<line x1="666.5" y1="240" x2="666.5" y2="355" stroke="#0000ff" stroke-width="1" shape-rendering="crispEdges"/>
<polyline points="666.5,353.0 668.0,361.0 668.8,359.9 669.5,359.7 670.2,358.3 671.0,357.7 672.0,359.8 673.0,362.0 674.0,358.4 675.0,355.2 676.0,358.0 677.0,359.8 677.8,360.0 678.5,359.2 679.2,358.8 680.0,359.0 681.0,360.4 682.0,360.8 683.0,361.3 684.0,364.1 684.8,364.0 685.5,364.6 686.2,364.2 687.0,364.1 687.8,364.1 688.5,364.8 689.2,365.1 690.0,365.2 691.0,363.5 692.0,361.6 692.7,362.1 693.5,361.4 694.2,362.2 694.9,361.2 695.6,361.5 696.4,361.1 697.1,360.9 697.8,360.8 698.5,361.3 699.3,361.6 700.0,361.3 700.7,361.4 701.4,361.6 702.1,362.0 702.9,361.7 703.6,362.1 704.3,363.2 705.0,363.3 706.0,362.9 707.0,363.7 708.0,365.0 709.0,366.6 709.8,366.0 710.5,366.0 711.2,364.7 712.0,363.7 712.8,363.5 713.6,362.4 714.4,361.7 715.2,361.3 716.0,361.5 716.8,361.9 717.6,362.4 718.4,362.7 719.2,363.6 720.0,364.1 720.7,363.8 721.4,363.6 722.1,364.3 722.9,363.1 723.6,363.1 724.3,363.7 725.0,363.4 725.7,363.0 726.4,363.4 727.1,362.9 727.9,363.7 728.6,362.6 729.3,362.8 730.0,362.5 730.7,362.5 731.4,362.7 732.1,362.1 732.9,361.6 733.6,361.7 734.3,361.2 735.0,360.9 736.0,359.8 737.0,359.7 738.0,354.6 739.0,366.6 739.8,367.6 740.5,367.3 741.2,368.6 742.0,368.9 742.8,368.5 743.5,366.4 744.2,369.1 745.0,369.4 746.0,359.5 747.0,362.4 748.0,364.6 748.8,363.7 749.6,363.1 750.4,363.1 751.2,362.1 752.0,361.3 753.0,363.3 754.0,366.5 755.0,367.4 756.0,368.2 756.8,368.8 757.6,368.1 758.4,368.9 759.2,369.2 760.0,369.2 760.8,369.0 761.6,369.6 762.4,369.6 763.2,369.3 764.0,370.1 765.0,369.0 766.0,367.4 766.8,367.1 767.6,366.9 768.4,367.6 769.2,367.5 770.0,368.0 770.7,367.6 771.4,366.5 772.1,364.1 772.9,366.7 773.6,366.1 774.3,366.4 775.0,366.5 775.7,366.0 776.4,366.0 777.1,366.8 777.9,364.5 778.6,367.1 779.3,367.4 780.0,367.6 780.7,366.9 781.4,367.1 782.1,366.9 782.9,366.7 783.6,367.4 784.3,367.0 785.0,367.3 785.8,366.8 786.5,366.5 787.2,366.5 788.0,366.0 788.8,366.9 789.6,366.1 790.4,367.3 791.2,367.3 792.0,366.9 792.7,367.9 793.4,367.3 794.1,367.5 794.9,368.1 795.6,367.5 796.3,367.5 797.0,368.4 798.0,356.2 799.0,357.5 800.0,360.1 800.7,359.7 801.4,360.2 802.1,359.7 802.9,359.5 803.6,359.4 804.3,360.6 805.0,359.9 805.7,360.4 806.4,360.5 807.1,360.2 807.9,360.4 808.6,361.1 809.3,361.3 810.0,361.0 811.0,358.8 812.0,361.8 813.0,361.8 814.0,362.7 814.8,362.3 815.6,362.7 816.4,361.3 817.2,361.7 818.0,360.9 819.0,359.4 820.0,358.0 821.0,355.5 822.0,353.8 823.0,361.2 824.0,357.8 825.0,354.5 826.0,357.6 827.0,359.8 827.8,360.3 828.5,361.1 829.2,360.2 830.0,360.7 830.8,360.7 831.5,359.3 832.2,358.9 833.0,357.7 833.8,358.8 834.5,359.6 835.2,360.0 836.0,360.4 836.8,360.7 837.6,360.8 838.4,359.8 839.2,359.2 840.0,358.9 841.0,352.0 842.0,353.0 843.0,354.7 844.0,356.4" fill="none" stroke="#0000ff" stroke-width="2" shape-rendering="crispEdges"/>
<polyline points="844.0,357.5 858.0,364.5" fill="none" stroke="#0000ff" stroke-width="1" shape-rendering="crispEdges"/>
<polyline points="859.0,361.4 860.0,355.6 861.0,357.4 862.0,359.5 862.8,359.2 863.5,359.3 864.2,359.0 865.0,359.0 865.8,359.3 866.5,359.3 867.2,360.1 868.0,360.4 869.0,360.2 870.0,360.1 871.0,358.3 872.0,364.6 873.0,370.8 874.0,370.1 875.0,370.2 876.0,370.7 877.0,371.5 877.8,370.8 878.5,369.0 879.2,368.7 880.0,366.6 880.8,366.6 881.6,367.9 882.4,367.3 883.2,367.8 884.0,367.6 884.8,368.3 885.6,368.7 886.4,368.8 887.2,368.3 888.0,369.0 889.0,368.1 890.0,366.5 890.8,366.8 891.5,367.6 892.2,367.3 893.0,367.6 893.8,367.0 894.5,367.6 895.2,366.9 896.0,365.6 897.0,367.1 898.0,366.6 899.0,370.1 899.8,370.1 900.6,370.0 901.4,370.2 902.2,370.0 903.0,370.9 904.0,368.8 905.0,367.9 906.0,367.4 907.0,366.5 907.8,367.1 908.5,367.1 909.2,366.5 910.0,366.5 911.0,364.4 912.0,365.0 913.0,367.1 913.7,367.4 914.4,367.6 915.1,367.0 915.8,367.5 916.5,367.5 917.2,366.8 917.9,367.9 918.6,367.0 919.3,367.3 920.0,367.2 921.0,370.2 921.8,370.0 922.6,370.0 923.4,368.9 924.2,368.9 925.0,368.8 925.8,369.0 926.5,368.2 927.2,369.1 928.0,368.9 929.0,363.4 930.0,370.7 931.0,370.0 932.0,367.6 933.0,363.5 934.0,365.2 935.0,366.7 936.0,370.2 937.0,365.1 938.0,367.7 939.0,370.5 940.0,370.5 940.5,356.5 941.2,353.0 942.0,354.7 943.0,356.3 944.0,357.5 945.0,356.0 946.0,353.1 947.0,357.2 948.0,360.4 949.0,370.3 950.0,371.6 951.0,365.4 952.0,366.1 952.7,366.0 953.5,369.7 954.2,366.2 954.9,367.3 955.6,367.7 956.4,368.8 957.1,366.8 957.8,369.1 958.5,368.2 959.3,368.9 960.0,365.4 960.7,365.2 961.4,366.3 962.1,365.6 962.9,369.2 963.6,369.9 964.3,368.1 965.0,367.6 965.7,365.1 966.4,368.7 967.1,369.4 967.9,367.6 968.6,368.7 969.3,369.1 970.0,367.8 970.8,370.4 971.5,371.0 972.2,369.4 973.0,366.0 973.8,367.2 974.5,370.2 975.2,367.8 976.0,370.3 976.8,369.5 977.5,370.0 978.2,371.5 979.0,368.5 979.8,368.1 980.5,367.4 981.2,367.7 982.0,366.0 982.8,368.9 983.5,367.4 984.2,366.3 985.0,365.8" fill="none" stroke="#0000ff" stroke-width="2" shape-rendering="crispEdges"/>
<polyline points="59.0,366.2 59.8,363.5 60.5,365.7 61.2,365.2 62.0,366.0 62.8,363.7 63.5,363.4 64.2,363.5 65.0,365.9 65.7,363.3 66.4,364.3 67.1,365.9 67.9,364.5 68.6,361.8 69.3,362.8 70.0,360.6 70.8,361.5 71.5,361.5 72.2,359.4 73.0,364.9 73.8,365.3 74.5,362.4 75.2,363.2 76.0,362.8 76.8,363.1 77.5,365.6 78.2,362.1 79.0,358.6 79.8,362.7 80.5,362.5 81.2,363.6 82.0,362.1 82.8,359.5 83.6,357.3 84.4,360.5 85.2,362.0 86.0,362.9 87.0,363.4 88.0,364.0 89.0,364.7 90.0,363.9 90.8,365.1 91.5,365.8 92.2,365.4 93.0,367.9 94.0,367.5" fill="none" stroke="#ff0000" stroke-width="2" shape-rendering="crispEdges"/>
<polyline points="94.5,368.0 94.5,285.0 95.5,284.0 95.5,276.0" fill="none" stroke="#ff0000" stroke-width="1" shape-rendering="crispEdges"/>
<polyline points="95.5,276.5 100.0,279.0 104.0,279.5 105.0,280.0" fill="none" stroke="#ff0000" stroke-width="2" shape-rendering="crispEdges"/>
<line x1="105" y1="280" x2="105" y2="366" stroke="#ff0000" stroke-width="2" shape-rendering="crispEdges"/>
<polyline points="105.5,365.5 106.2,366.4 107.0,365.4 107.8,365.2 108.5,364.8 109.2,365.4 110.0,365.1 110.8,364.9 111.5,365.3 112.2,365.3 113.0,364.9 113.8,365.0 114.5,364.6 115.2,364.6 116.0,364.4 116.7,364.5 117.5,364.5 118.2,364.2 119.0,364.6 119.7,364.1 120.5,364.6 121.2,363.7 122.0,364.6 122.7,364.4 123.4,364.9 124.1,364.7 124.8,365.3 125.6,366.0 126.3,366.6 127.0,367.1 128.0,366.3 129.0,365.5 130.0,358.9 131.0,365.5 132.0,367.5 132.8,366.8 133.5,366.0 134.2,366.1 135.0,365.8 135.8,365.2 136.5,366.0 137.2,364.8 138.0,365.2 139.0,364.0 140.0,363.9 140.8,364.7 141.5,365.6 142.2,366.0 143.0,367.4 143.8,366.9 144.6,367.7 145.4,368.0 146.2,367.9 147.0,367.5 147.8,367.7 148.5,366.6 149.2,364.6 150.0,364.5 150.7,365.2 151.4,364.3 152.1,364.1 152.9,364.4 153.6,363.5 154.3,363.4 155.0,363.0 155.7,363.2 156.4,363.2 157.1,363.5 157.9,363.3 158.6,363.0 159.3,363.5 160.0,363.5 160.7,363.0 161.4,363.8 162.1,364.7 162.9,363.6 163.6,364.8 164.3,366.0 165.0,365.7 165.7,366.3 166.4,366.3 167.1,366.2 167.9,366.5 168.6,365.5 169.3,365.6 170.0,366.0 170.7,366.2 171.4,365.6 172.1,362.9 172.9,365.4 173.6,364.9 174.3,365.3 175.0,365.4 175.7,365.6 176.4,365.3 177.1,365.8 177.9,366.9 178.6,366.5 179.3,367.0 180.0,367.3 180.7,367.2 181.4,364.6 182.1,366.5 182.9,365.8 183.6,365.3 184.3,365.0 185.0,363.9 185.7,363.8 186.4,364.3 187.1,364.1 187.9,363.2 188.6,363.3 189.3,363.1 190.0,363.7 190.7,363.6 191.4,363.6 192.1,364.4 192.9,364.4 193.6,364.5 194.3,364.0 195.0,364.2 195.7,364.9 196.4,365.4 197.1,366.0 197.9,365.9 198.6,366.6 199.3,366.7 200.0,366.7 201.0,365.5 202.0,358.4 203.0,365.7 204.0,365.4 204.8,364.6 205.5,364.1 206.2,364.1 207.0,363.8 207.7,364.1 208.4,364.3 209.1,365.0 209.9,365.3 210.6,365.3 211.3,365.3 212.0,366.5 212.7,365.4 213.5,365.8 214.2,364.4 214.9,365.6 215.6,365.6 216.4,365.3 217.1,363.4 217.8,365.0 218.5,365.0 219.3,364.9 220.0,364.5 221.0,356.7 221.8,356.8 222.5,356.8 223.2,356.7 224.0,357.5 224.8,357.2 225.5,356.7 226.2,356.7 227.0,356.5 227.8,357.0 228.5,356.5 229.2,357.0 230.0,357.2 231.0,359.5 231.8,359.2 232.6,359.3 233.4,360.5 234.2,360.9 235.0,361.5 235.8,361.9 236.5,361.8 237.2,362.4 238.0,363.1 238.7,362.7 239.4,363.2 240.1,363.2 240.8,363.3 241.5,363.5 242.2,362.2 242.9,364.0 243.6,364.1 244.3,365.0 245.0,364.6 245.7,365.0 246.4,365.2 247.1,365.1 247.9,366.1 248.6,365.6 249.3,366.1 250.0,366.3 250.7,365.4 251.4,365.3 252.1,365.4 252.9,365.5 253.6,364.6 254.3,364.5 255.0,364.3 255.7,364.5 256.4,364.3 257.1,364.5 257.9,365.0 258.6,364.5 259.3,364.5 260.0,365.0 261.0,364.9 262.0,364.2 263.0,362.3 263.8,363.2 264.5,363.3 265.2,363.8 266.0,365.5 267.0,368.4 268.0,373.3 269.0,379.2 269.7,379.0 270.5,378.5 271.2,378.0 271.9,378.5 272.6,378.3 273.4,378.2 274.1,377.2 274.8,377.7 275.5,377.1 276.3,377.0 277.0,377.0 277.8,377.0 278.5,376.7 279.2,377.2 280.0,377.2 280.8,376.9 281.5,377.8 282.2,377.8 283.0,378.8 283.7,378.9 284.4,378.6 285.1,378.9 285.8,378.8 286.5,378.3 287.2,378.2 287.9,377.7 288.6,377.7 289.3,378.4 290.0,378.4 290.8,377.7 291.6,377.2 292.4,376.6 293.2,375.8 294.0,374.6 294.8,376.1 295.5,375.9 296.2,376.3 297.0,377.9 297.8,376.9 298.5,376.9 299.2,377.1 300.0,376.9 300.8,377.6 301.5,378.1 302.2,378.8 303.0,379.0 303.7,379.2 304.4,378.7 305.1,379.4 305.8,379.1 306.5,378.6 307.2,379.3 307.9,378.8 308.6,379.2 309.3,378.8 310.0,379.4 310.7,378.1 311.4,378.4 312.1,377.2 312.9,376.7 313.6,377.0 314.3,376.7 315.0,375.9 315.8,376.1 316.5,376.8 317.2,377.9 318.0,378.3 318.8,379.0 319.6,378.4 320.4,379.3 321.2,379.2 322.0,379.9 322.8,378.7 323.5,379.0 324.2,378.1 325.0,378.3 325.8,377.6 326.5,377.7 327.2,377.5 328.0,377.4 329.0,376.7 330.0,375.6 330.7,375.8 331.4,376.3 332.1,375.8 332.9,375.6 333.6,375.9 334.3,376.4 335.0,376.1 335.7,376.0 336.4,376.0 337.1,376.9 337.9,376.6 338.6,377.2 339.3,376.9 340.0,377.5 340.7,376.9 341.4,377.5 342.1,377.0 342.9,377.8 343.6,377.3 344.3,377.7 345.0,378.1 345.7,377.6 346.4,377.6 347.1,377.4 347.8,377.9 348.5,377.0 349.2,377.4 349.9,376.8 350.6,376.7 351.3,377.1 352.0,376.5 353.0,376.6 354.0,376.4 354.8,376.1 355.6,376.4 356.4,377.3 357.2,378.0 358.0,377.6 358.8,378.7 359.6,378.4 360.4,379.1 361.2,378.3 362.0,379.4 362.8,379.5 363.6,378.6 364.4,379.1 365.2,379.0 366.0,379.3 367.0,377.5 368.0,376.1 368.8,376.2 369.6,376.1 370.4,376.1 371.2,376.4 372.0,376.1 372.7,375.8 373.5,376.8 374.2,376.8 374.9,376.5 375.6,376.9 376.4,377.3 377.1,377.7 377.8,377.3 378.5,377.9 379.3,378.3 380.0,378.1 380.7,376.4 381.4,378.2 382.1,376.4 382.9,377.6 383.6,378.1 384.3,376.6 385.0,377.5 385.7,377.4 386.4,378.0 387.1,377.8 387.8,377.1 388.5,377.4 389.2,376.8 389.9,376.7 390.6,376.8 391.3,376.3 392.0,375.9 392.8,376.0 393.5,375.9 394.2,376.0 395.0,376.1 395.8,377.4 396.5,377.3 397.2,378.0 398.0,378.2 399.0,378.9 400.0,378.7 400.7,379.2 401.4,378.5 402.1,378.9 402.9,378.2 403.6,378.2 404.3,377.7 405.0,377.8 405.8,377.1 406.5,377.0 407.2,376.8 408.0,375.8 408.7,375.8 409.4,376.5 410.1,376.5 410.8,376.0 411.5,376.7 412.2,376.5 412.9,376.7 413.6,376.3 414.4,375.7 415.1,375.9 415.8,376.7 416.5,376.8 417.2,376.0 417.9,376.5 418.6,376.4 419.3,376.9 420.0,376.6 421.0,378.6 421.8,378.3 422.6,379.0 423.4,378.6 424.2,378.1 425.0,378.4 425.7,377.6 426.4,377.5 427.1,378.4 427.9,378.1 428.6,378.5 429.3,378.1 430.0,377.7 430.8,378.0 431.5,377.0 432.2,376.4 433.0,375.5 433.8,376.6 434.5,374.2 435.2,377.4 436.0,378.8 436.8,378.2 437.5,378.6 438.2,379.1 439.0,379.0 439.8,378.6 440.5,378.7 441.2,378.9 442.0,379.0 442.8,378.4 443.5,378.5 444.2,379.3 445.0,378.7 446.0,377.5 447.0,376.4 447.7,376.2 448.5,376.3 449.2,375.6 449.9,376.0 450.6,374.8 451.4,376.6 452.1,376.5 452.8,376.5 453.5,376.5 454.3,374.9 455.0,376.9 455.7,376.6 456.4,377.5 457.1,377.5 457.9,377.9 458.6,378.0 459.3,377.9 460.0,379.0 460.7,378.9 461.4,379.0 462.1,378.1 462.9,378.2 463.6,378.2 464.3,378.7 465.0,378.3 465.7,377.9 466.4,378.4 467.1,378.1 467.9,377.5 468.6,377.2 469.3,376.9 470.0,376.7 470.8,376.5 471.5,375.6 472.2,376.9 473.0,376.1 473.8,377.0 474.5,377.9 475.2,378.9 476.0,379.4 476.8,379.1 477.6,379.2 478.4,378.7 479.2,378.1 480.0,377.7 480.7,376.9 481.4,377.6 482.1,377.5 482.9,377.3 483.6,376.7 484.3,376.9 485.0,377.2 485.7,377.1 486.4,376.5 487.1,376.3 487.9,376.8 488.6,376.2 489.3,376.8 490.0,376.1 490.7,375.9 491.4,376.8 492.1,376.3 492.9,375.9 493.6,376.3 494.3,375.8 495.0,376.3 495.7,376.4 496.4,376.7 497.1,377.5 497.9,377.2 498.6,377.7 499.3,378.1 500.0,379.0 500.7,378.7 501.4,378.8 502.1,378.5 502.9,378.4 503.6,378.1 504.3,378.8 505.0,378.7 505.7,378.2 506.4,378.1 507.1,378.6 507.9,378.2 508.6,378.4 509.3,378.2 510.0,378.0 511.0,372.9 511.8,372.8 512.5,372.6 513.2,373.1 514.0,373.5 515.0,378.4 516.0,377.0 517.0,375.7 518.0,378.1 519.0,380.7 520.0,374.2 521.0,382.3 522.0,380.6 522.8,379.8 523.5,379.7 524.2,378.3 525.0,378.4 525.8,377.7 526.5,377.3 527.2,376.5 528.0,376.1 528.7,375.5 529.4,376.2 530.1,375.6 530.8,376.2 531.5,375.8 532.2,375.8 532.9,376.3 533.6,376.4 534.3,376.0 535.0,376.1 535.7,375.5 536.4,376.3 537.1,375.9 537.9,375.5 538.6,375.2 539.3,376.0 540.0,375.4 540.7,375.6 541.4,375.6 542.1,376.2 542.9,376.1 543.6,377.5 544.3,377.2 545.0,377.0 545.7,377.9 546.4,378.1 547.1,378.7 547.9,378.9 548.6,378.8 549.3,379.1 550.0,379.3 550.8,378.2 551.5,378.3 552.2,377.3 553.0,376.6 554.0,376.7 555.0,376.1 555.7,376.0 556.4,377.2 557.1,377.4 557.9,377.9 558.6,378.3 559.3,378.4 560.0,379.2 560.7,379.0 561.4,379.3 562.1,378.6 562.9,379.2 563.6,378.4 564.3,378.5 565.0,379.0 565.8,378.3 566.5,378.1 567.2,376.9 568.0,377.3 569.0,377.0 570.0,377.9 570.7,376.9 571.4,377.1 572.1,376.5 572.9,376.8 573.6,376.7 574.3,375.8 575.0,376.2 575.8,376.4 576.5,376.3 577.2,375.5 578.0,376.4 579.0,377.5 580.0,379.3 580.7,379.2 581.4,378.7 582.1,379.1 582.9,379.8 583.6,379.3 584.3,379.8 585.0,379.5 585.7,379.2 586.4,379.6 587.1,379.5 587.9,379.5 588.6,379.5 589.3,380.3 590.0,380.5 590.8,379.9 591.5,379.4 592.2,378.8 593.0,378.3 593.8,378.2 594.6,378.4 595.4,379.1 596.2,379.4 597.0,379.2 597.8,379.4 598.5,378.3 599.2,378.8 600.0,378.3 600.7,378.3 601.4,378.2 602.1,378.4 602.9,378.0 603.6,378.0 604.3,378.2 605.0,377.5 605.7,377.7 606.4,377.3 607.1,377.7 607.9,378.1 608.6,377.3 609.3,377.2 610.0,377.7 610.8,376.6 611.5,376.2 612.2,376.3 613.0,375.6 613.8,375.5 614.5,374.2 615.2,373.5 616.0,373.4 616.8,373.7 617.6,373.8 618.4,374.3 619.2,374.3 620.0,375.2 621.0,375.8 622.0,378.0 622.8,377.1 623.5,377.5 624.2,378.2 625.0,377.7 625.8,378.2 626.5,378.2 627.2,377.4 628.0,378.1 628.8,375.9 629.6,377.3 630.4,377.5 631.2,376.7 632.0,377.2 632.8,376.3 633.5,376.4 634.2,375.0 635.0,374.8 636.0,376.0 637.0,378.2 637.7,378.0 638.4,378.4 639.1,377.6 639.9,377.9 640.6,378.1 641.3,378.5 642.0,377.6 642.8,378.0 643.5,377.5 644.2,377.7 645.0,377.2 646.0,376.3 647.0,375.0 647.8,374.8 648.5,374.4 649.2,374.3 650.0,373.9 651.0,372.8 652.0,371.7 653.0,368.7 654.0,369.2 655.0,353.0 656.0,351.0" fill="none" stroke="#ff0000" stroke-width="2" shape-rendering="crispEdges"/>
<line x1="657.5" y1="351" x2="657.5" y2="222" stroke="#ff0000" stroke-width="1" shape-rendering="crispEdges"/>
<polyline points="657.5,222.0 658.0,222.0 659.0,226.0 660.0,225.0 661.0,227.0 662.0,226.0 663.0,222.0 664.0,221.0 665.0,221.0 666.0,223.0 666.5,225.0" fill="none" stroke="#ff0000" stroke-width="2" shape-rendering="crispEdges"/>
<line x1="666.5" y1="235" x2="666.5" y2="353" stroke="#ff0000" stroke-width="1" shape-rendering="crispEdges"/>
<polyline points="666.5,352.5 668.0,357.5 668.5,357.0 669.0,353.1 669.5,352.9 670.0,353.3 670.5,355.2 671.0,351.5 671.5,354.7 672.0,352.0 672.5,353.5 673.0,351.5 673.5,353.2 674.0,352.8 674.5,352.1 675.0,350.4 675.5,351.3 676.0,353.4 676.5,353.0 677.0,354.0 677.5,354.0 678.0,354.6 678.5,355.1 679.0,355.4 679.5,355.0 680.0,355.5 680.5,355.5 681.0,356.1 681.5,356.1 682.0,356.1 682.5,356.9 683.0,357.1 683.5,356.5 684.0,357.9 684.5,357.4 685.0,357.8 685.5,357.8 686.0,358.6 686.5,359.0 687.0,360.2 687.5,360.8 688.0,360.6 688.5,361.7 689.0,361.2 689.5,362.1 690.0,362.1 690.5,362.0 690.9,362.6 691.4,361.0 691.9,361.9 692.3,362.1 692.8,361.6 693.3,361.5 693.7,361.7 694.2,361.2 694.7,360.9 695.1,360.3 695.6,360.3 696.1,361.0 696.5,360.6 697.0,360.7 697.5,360.8 698.0,358.5 698.5,360.5 699.0,361.0 699.5,361.5 700.0,361.4 700.5,362.2 701.0,362.3 701.5,362.3 702.0,361.6 702.5,362.3 703.0,363.3 703.5,363.9 704.0,362.7 704.5,363.2 705.0,363.0 705.5,363.4 706.0,364.5 706.5,368.7 707.0,373.2 707.5,367.5 707.9,373.2 708.4,371.1 708.9,366.6 709.4,370.8 709.8,368.9 710.3,369.8 710.8,366.8 711.2,368.5 711.7,372.8 712.2,369.1 712.6,372.1 713.1,370.8 713.6,368.7 714.1,372.3 714.5,367.0 715.0,366.6 715.5,367.2 715.9,371.1 716.4,369.0 716.8,370.5 717.3,369.0 717.7,366.6 718.2,370.7 718.6,373.4 719.1,367.0 719.5,372.6 720.0,368.7 720.5,370.6 720.9,372.0 721.4,367.1 721.8,366.4 722.3,366.8 722.7,368.3 723.2,372.1 723.6,370.9 724.1,371.1 724.5,372.8 725.0,372.6 725.5,372.8 725.9,373.4 726.4,369.7 726.8,370.2 727.3,368.5 727.7,369.6 728.2,367.4 728.6,375.7 729.1,369.4 729.5,368.7 730.0,374.6 730.5,368.7 730.9,372.8 731.4,375.2 731.8,368.9 732.3,369.8 732.7,377.1 733.2,376.7 733.6,373.3 734.1,372.4 734.5,377.1 735.0,374.0 735.5,367.8 736.0,369.4 736.5,381.1 737.0,380.2 737.5,381.6 738.0,370.6 738.5,380.0 739.0,376.9 739.5,376.0 740.0,374.4 740.5,375.8 741.0,381.3 741.5,374.7 742.0,376.0 742.5,383.5 743.0,381.8 743.5,373.6 744.0,377.1 744.5,379.5 745.0,375.0 745.5,377.2 745.9,379.8 746.4,380.0 746.8,373.2 747.3,378.0 747.7,376.2 748.2,374.3 748.6,378.4 749.1,376.7 749.5,374.1 750.0,374.0 750.5,377.1 751.0,378.2 751.5,376.1 752.0,374.2 752.5,372.3 753.0,376.8 753.5,374.6 753.9,380.3 754.4,372.8 754.8,378.9 755.3,380.3 755.7,379.7 756.2,373.9 756.6,374.6 757.1,376.6 757.5,379.9 758.0,380.7 758.5,377.0 759.0,378.5 759.5,380.1 760.0,380.8 760.5,381.9 760.9,381.1 761.4,380.0 761.8,379.9 762.3,381.5 762.7,382.4 763.2,382.0 763.6,377.9 764.1,382.7 764.5,380.5 765.0,382.8 765.5,382.2 766.0,375.5 766.5,382.1 767.0,383.9 767.5,377.4 768.0,383.5 768.5,381.6 769.0,380.7 769.5,380.7 770.0,382.0 770.5,378.9 771.0,380.5 771.5,382.5 772.0,381.3 772.5,380.8 773.0,381.5 773.5,382.7 774.0,385.2 774.5,386.4 775.0,383.7 775.5,384.2 776.0,382.0 776.5,380.6 777.0,381.7 777.5,383.1 778.0,383.6 778.5,383.1 779.0,385.7 779.5,386.0 780.0,386.3 780.5,387.9 781.0,388.0 781.5,385.3 782.0,384.7 782.5,387.5 783.0,385.2 783.5,384.4 784.0,384.3 784.5,385.4 785.0,384.3 785.5,386.6 786.0,385.8 786.5,383.4 787.0,384.4 787.5,386.2 788.0,385.6 788.5,383.8 789.0,385.9 789.5,380.9 790.0,380.3 790.5,385.8 791.0,382.5 791.5,383.5 792.0,382.0 792.5,385.8 793.0,388.0 793.5,387.2 794.0,385.4 794.5,387.2 795.0,386.6 795.5,382.6 796.0,382.1 796.5,382.4 797.0,382.5 797.5,378.2 798.0,381.7 798.5,380.2 799.0,379.3 799.5,375.9 800.0,380.8 800.5,375.6 801.0,375.6 801.5,375.6 802.0,373.4 802.5,373.4 803.0,374.2 803.5,373.2 804.0,376.3 804.5,376.2 805.0,373.6 805.5,375.9 806.0,372.0 806.5,374.9 807.0,371.9 807.5,370.6 808.0,375.0 808.5,371.3 809.0,370.9 809.5,373.6 810.0,370.6 810.5,371.4 811.0,370.0 811.5,367.9 812.0,370.4 812.5,373.4 813.0,373.5 813.5,375.0 814.0,374.6 814.5,369.7 815.0,372.5 815.5,371.1 815.9,369.3 816.4,375.0 816.8,375.6 817.3,373.9 817.7,373.2 818.2,370.4 818.6,373.8 819.1,370.4 819.5,375.4 820.0,370.2 820.5,373.7 821.0,368.1 821.5,374.0 822.0,365.4 822.5,366.9 823.0,374.7 823.5,368.6 824.0,371.3 824.5,373.2 825.0,371.9 825.5,368.6 826.0,368.4 826.5,374.0 827.0,371.8 827.5,372.7 828.0,373.4 828.5,374.4 829.0,371.2 829.5,374.6 830.0,370.7 830.5,372.5 830.9,372.9 831.4,373.7 831.8,375.4 832.3,373.4 832.7,371.3 833.2,373.2 833.6,372.4 834.1,374.5 834.5,371.9 835.0,372.1 835.5,376.5 836.0,378.8 836.5,378.4 837.0,374.9 837.5,375.5 838.0,374.8 838.5,371.8 839.0,374.8 839.5,372.4 840.0,369.6 840.5,372.3 841.0,372.6 841.5,369.6 842.0,371.4 842.5,368.9 843.0,371.3" fill="none" stroke="#ff0000" stroke-width="2" shape-rendering="crispEdges"/>
<polyline points="843.5,371.5 857.5,379.5" fill="none" stroke="#ff0000" stroke-width="1" shape-rendering="crispEdges"/>
<polyline points="858.0,379.9 858.5,374.3 859.0,374.9 859.5,371.3 860.0,370.8 860.5,371.4 861.0,371.4 861.5,372.0 862.0,373.3 862.5,374.2 863.0,373.2 863.5,374.2 864.0,370.9 864.5,374.8 865.0,374.0 865.5,372.9 866.0,372.8 866.5,371.1 867.0,370.3 867.5,369.1 868.0,369.9 868.5,369.2 869.0,369.5 869.5,369.1 870.0,367.3 870.5,370.0 871.0,370.7 871.5,372.5 872.0,374.6 872.5,377.7 873.0,379.1 873.5,380.0 874.0,382.9 874.5,380.2 875.0,378.9 875.5,379.4 876.0,380.2 876.5,380.4 877.0,379.0 877.5,383.6 878.0,378.8 878.5,379.3 879.0,377.2 879.5,375.8 880.0,377.5 880.5,374.3 881.0,372.5 881.5,374.2 882.0,372.4 882.5,372.3 883.0,372.1 883.5,374.9 884.0,374.6 884.5,376.4 885.0,375.4 885.5,376.2 886.0,375.3 886.5,375.9 887.0,378.3 887.5,375.7 888.0,377.2 888.5,378.8 889.0,378.1 889.5,376.1 890.0,375.7 890.5,375.9 891.0,376.6 891.5,374.5 892.0,376.6 892.5,375.0 893.0,373.7 893.5,375.3 894.0,373.0 894.5,374.3 895.0,372.1 895.5,372.8 896.0,372.0 896.5,373.4 897.0,373.1 897.5,373.2 898.0,371.1 898.5,371.6 899.0,374.7 899.5,373.0 900.0,374.6 900.5,372.8 901.0,375.1 901.5,374.8 902.0,372.8 902.5,372.0 903.0,371.0 903.5,372.2 904.0,371.5 904.5,370.8 905.0,369.1 905.5,368.7 906.0,369.9 906.5,369.2 907.0,368.7 907.5,367.0 908.0,366.8 908.5,364.6 909.0,366.0 909.5,365.9 910.0,365.5 910.5,364.4 911.0,365.7 911.5,366.4 912.0,365.1 912.5,365.1 913.0,365.6 913.5,367.0 913.9,366.2 914.4,364.0 914.9,366.7 915.3,365.7 915.8,366.9 916.3,366.9 916.7,365.4 917.2,366.6 917.7,365.7 918.1,365.4 918.6,367.0 919.1,366.1 919.5,365.9 920.0,365.1 920.5,367.4 921.0,368.9 921.5,368.9 922.0,367.7 922.5,367.0 923.0,367.2 923.5,366.8 924.0,366.3 924.5,366.3 925.0,365.8 925.5,364.9 926.0,365.1 926.5,366.0 927.0,365.5 927.5,365.9 928.0,364.4 928.5,352.0 929.0,363.2 929.5,366.2 930.0,369.0 930.5,365.6 931.0,364.9 931.5,363.1 932.0,361.3 932.5,361.0 933.0,360.7 933.5,360.3 934.0,362.0 934.5,363.2 935.0,366.5 936.5,354.0 938.0,362.7 938.5,363.1 939.0,367.0 939.5,358.3 940.0,353.7 940.5,351.5 941.0,349.0 941.5,350.8 942.0,352.7 942.5,351.0 943.0,348.7 943.5,346.5 944.0,352.3 944.5,351.0 945.0,350.8 945.5,348.4 946.0,346.8 946.5,346.6 947.0,344.2 947.5,349.4 948.0,351.2 948.5,355.6 949.0,357.8 949.5,361.2 950.0,365.7 950.5,365.7 951.0,365.0" fill="none" stroke="#ff0000" stroke-width="2" shape-rendering="crispEdges"/>
<polyline points="952.0,364.7 952.6,365.4 953.2,361.2 953.8,355.4 954.5,364.2 955.1,357.0 955.7,359.8 956.3,360.4 956.9,353.7 957.5,364.4 958.2,365.1 958.8,360.9 959.4,365.2 960.0,364.0 960.6,363.9 961.2,359.2 961.9,363.0 962.5,365.4 963.1,362.9 963.8,363.7 964.4,365.2 965.0,357.2 965.6,363.1 966.2,362.7 966.9,365.0 967.5,363.5 968.1,358.6 968.8,362.8 969.4,364.8 970.0,363.1 970.6,363.9 971.2,354.4 971.8,364.0 972.5,364.8 973.1,363.4 973.7,363.7 974.3,363.6 974.9,363.9 975.5,365.1 976.2,363.4 976.8,364.3 977.4,363.0 978.0,365.3 978.6,363.9 979.3,364.4 979.9,359.7 980.5,362.8 981.2,364.1 981.8,364.8 982.5,364.2 983.1,353.3 983.7,356.7 984.4,362.2 985.0,362.9" fill="none" stroke="#ff0000" stroke-width="1.5" shape-rendering="crispEdges"/>
<g shape-rendering="crispEdges"><polyline points="94.0,406.5 101.0,406.5" fill="none" stroke="#00ff00" stroke-width="1" /><polyline points="101.0,406.5 106.0,406.5" fill="none" stroke="#00ff00" stroke-width="1" /><polyline points="58.0,406.5 510.5,406.5 510.5,402.7 511.0,405.5 511.5,404.4 512.0,405.9 512.0,406.5 520.0,406.5 520.0,404.7 520.5,406.0 521.0,403.5 521.0,406.5 614.0,406.5 614.0,405.0 614.5,405.9 615.0,403.1 615.0,406.5 700.0,406.5 700.0,403.6 700.5,405.7 701.0,405.1 701.5,406.0 702.0,403.3 702.5,405.1 703.0,403.7 703.0,406.5 703.0,406.5 703.0,404.2 703.5,404.6 704.0,404.2 704.5,405.8 705.0,403.5 705.5,405.6 706.0,404.4 706.5,406.1 707.0,401.9 707.5,406.3 708.0,403.3 708.0,406.5 708.0,406.5 708.0,405.7 708.5,406.0 709.0,405.6 709.5,406.5 710.0,404.3 710.0,406.5 713.0,406.5 713.0,404.5 713.5,405.0 714.0,404.3 714.5,405.1 715.0,403.8 715.5,405.3 716.0,402.1 716.0,406.5 718.0,406.5 718.0,404.7 718.5,405.5 719.0,405.1 719.5,405.8 720.0,404.8 720.5,405.3 721.0,405.0 721.5,405.8 722.0,405.1 722.0,406.5 727.0,406.5 727.0,404.3 727.5,405.3 728.0,403.6 728.5,405.8 729.0,403.2 729.5,405.8 730.0,404.8 730.5,406.3 731.0,403.4 731.5,406.3 732.0,403.9 732.0,406.5 738.0,406.5 738.0,401.1 738.5,405.9 739.0,401.5 739.5,406.2 740.0,404.5 740.5,404.9 741.0,402.9 741.5,404.2 742.0,400.8 742.5,404.7 743.0,401.4 743.5,404.9 744.0,401.5 744.0,406.5 750.0,406.5 750.0,405.7 750.5,405.9 751.0,405.2 751.5,406.0 752.0,406.0 752.0,406.5 765.0,406.5 765.0,403.9 765.5,405.8 766.0,401.5 766.5,405.3 767.0,402.2 767.5,405.4 768.0,403.1 768.0,406.5 772.0,406.5 772.0,405.6 772.5,406.2 773.0,405.1 773.5,406.0 774.0,405.1 774.0,406.5 779.0,406.5 779.0,402.6 779.5,406.4 780.0,404.3 780.0,406.5 785.0,406.5 785.0,404.7 785.5,406.3 786.0,403.1 786.0,406.5 792.0,406.5 792.0,401.6 792.5,405.5 793.0,404.6 793.0,406.5 798.0,406.5 798.0,403.9 798.5,406.1 799.0,403.9 799.5,405.7 800.0,402.0 800.0,406.5 804.0,406.5 804.0,404.7 804.5,406.4 805.0,404.8 805.5,405.9 806.0,404.9 806.0,406.5 811.0,406.5 811.0,405.9 811.5,405.9 812.0,406.0 812.5,406.1 813.0,405.5 813.5,406.0 814.0,405.3 814.5,406.5 815.0,406.0 815.0,406.5 814.0,406.5 814.0,404.9 814.5,405.3 815.0,404.7 815.5,406.2 816.0,404.0 816.5,406.5 817.0,402.1 817.5,405.2 818.0,403.1 818.5,405.1 819.0,402.0 819.5,406.3 820.0,402.6 820.0,406.5 820.0,406.5 820.0,403.4 820.5,405.8 821.0,404.8 821.0,406.5 824.0,406.5 824.0,404.4 824.5,406.3 825.0,404.0 825.5,406.2 826.0,404.3 826.0,406.5 830.0,406.5 830.0,404.6 830.5,405.9 831.0,404.5 831.5,406.5 832.0,405.6 832.0,406.5 870.0,406.5 870.0,402.7 870.5,405.3 871.0,404.2 871.0,406.5 895.0,406.5 895.0,402.4 895.5,405.0 896.0,402.7 896.0,406.5 905.0,406.5 905.0,405.1 905.5,405.3 906.0,404.5 906.0,406.5 985.0,406.5" fill="none" stroke="#00ff00" stroke-width="1" /><polyline points="219.0,406.5 220.0,405.0 221.0,403.5 222.0,402.0 223.0,400.5 223.7,402.5 224.4,401.5 225.1,402.5 225.8,401.5 226.5,401.5 227.2,402.5 227.9,401.5 228.6,400.5 229.3,401.5 230.0,401.5 230.7,401.5 231.4,402.5 232.1,401.5 232.8,401.5 233.5,402.5 234.2,401.5 234.9,400.5 235.6,402.5 236.0,402.5 237.0,403.5 238.0,404.5 239.0,405.5 240.0,406.5" fill="none" stroke="#00ff00" stroke-width="1" /><polyline points="58.0,406.5 94.0,406.5 94.3,440.0 95.0,430.0 96.0,414.0 97.0,412.0 98.0,410.0 99.0,408.5 100.0,407.0 101.0,406.5 102.0,409.0 103.0,409.0 104.0,406.5 105.0,413.5 106.0,406.5 521.0,406.5 521.0,409.8 521.5,407.5 522.0,409.7 522.0,406.5 648.0,406.5 648.0,408.0 648.5,407.2 649.0,408.2 649.0,406.5 653.0,406.5 653.0,407.8 653.5,406.7 654.0,408.8 654.0,406.5 655.0,406.5 655.0,407.3 655.5,407.2 656.0,408.5 656.0,406.5 707.0,406.5 707.0,408.1 707.5,406.7 708.0,408.3 708.0,406.5 714.0,406.5 714.0,407.6 714.5,406.7 715.0,407.7 715.5,407.0 716.0,407.7 716.0,406.5 720.0,406.5 720.0,407.8 720.5,408.0 721.0,408.6 721.5,408.0 722.0,408.6 722.0,406.5 727.0,406.5 727.0,408.5 727.5,406.9 728.0,408.4 728.0,406.5 730.0,406.5 730.0,409.0 730.5,407.4 731.0,408.7 731.5,407.2 732.0,408.4 732.5,407.3 733.0,409.1 733.0,406.5 739.0,406.5 739.0,408.5 739.5,407.1 740.0,409.1 740.5,407.4 741.0,409.6 741.5,407.5 742.0,409.7 742.0,406.5 747.0,406.5 747.0,409.8 747.5,406.9 748.0,409.3 748.0,406.5 751.0,406.5 751.0,408.5 751.5,406.8 752.0,408.8 752.0,406.5 765.0,406.5 765.0,411.6 765.5,406.9 766.0,412.3 766.5,406.6 767.0,411.4 767.5,408.3 768.0,412.2 768.0,406.5 779.0,406.5 779.0,408.3 779.5,407.1 780.0,407.7 780.0,406.5 786.0,406.5 786.0,408.8 786.5,407.2 787.0,407.5 787.0,406.5 799.0,406.5 799.0,409.3 799.5,407.4 800.0,410.2 800.5,406.8 801.0,408.8 801.0,406.5 804.0,406.5 804.0,411.5 804.5,408.6 805.0,408.5 805.0,406.5 811.0,406.5 811.0,409.1 811.5,406.6 812.0,408.1 812.5,407.5 813.0,408.7 813.0,406.5 813.0,406.5 813.0,408.0 813.5,407.3 814.0,408.6 814.0,406.5 815.0,406.5 815.0,407.4 815.5,406.8 816.0,408.5 816.5,407.0 817.0,408.1 817.5,406.5 818.0,408.4 818.5,407.5 819.0,409.1 819.0,406.5 830.0,406.5 830.0,407.6 830.5,406.8 831.0,408.3 831.0,406.5 870.0,406.5 870.0,408.0 870.5,406.9 871.0,407.9 871.0,406.5 894.0,406.5 894.0,410.2 894.5,407.9 895.0,409.9 895.0,406.5 985.0,406.5" fill="none" stroke="#ff0000" stroke-width="1" /></g>
<g shape-rendering="crispEdges"><polyline points="58.0,84.5 221.0,84.5 237.0,74.5 241.0,74.5 241.0,75.5 265.0,75.5 265.0,76.5 268.0,76.5 268.0,75.5 303.0,75.5 303.0,76.5 313.0,76.5 313.0,75.5 319.0,75.5 319.0,76.5 331.0,76.5 331.0,75.5 336.0,75.5 336.0,76.5 344.0,76.5 344.0,75.5 363.0,75.5 363.0,76.5 368.0,76.5 368.0,75.5 379.0,75.5 379.0,76.5 384.0,76.5 384.0,75.5 405.0,75.5 405.0,76.5 470.0,76.5 470.5,75.5 471.5,75.5 472.0,76.5 510.0,76.5 510.0,77.5 512.0,77.5 513.0,75.5 519.0,75.5 519.0,74.5 521.0,74.5 522.0,76.5 525.0,76.5 525.0,77.5 533.0,77.5 533.0,78.5 542.0,78.5 542.0,77.5 552.0,77.5 552.0,78.5 560.0,78.5 560.0,79.5 572.0,79.5 572.0,80.5 587.0,80.5 587.0,81.5 595.0,81.5 595.0,82.5 616.0,82.5 616.0,81.5 625.0,81.5 625.0,80.5 651.0,80.5 651.0,81.5 657.0,81.5 657.0,82.5 670.0,82.5 670.0,81.5 690.0,81.5 690.0,80.5 697.0,80.5 697.0,79.5 701.0,79.5 706.0,74.5 707.0,74.5" fill="none" stroke="#ff0000" stroke-width="1" /><line x1="706" y1="74" x2="881" y2="74" stroke="#ff0000" stroke-width="2"/><polyline points="880.0,74.5 882.0,73.5 883.0,74.5 889.0,73.5 890.0,74.5 894.0,73.5 895.0,74.5 933.0,74.5 933.0,75.5 945.0,75.5 945.0,76.5 962.0,76.5 962.0,77.5 969.0,77.5 970.0,76.5 971.0,77.5 985.0,77.5" fill="none" stroke="#ff0000" stroke-width="1" /></g>
<g stroke="#000" stroke-width="1" shape-rendering="crispEdges"><line x1="58.5" y1="25" x2="58.5" y2="488"/><line x1="985.5" y1="25" x2="985.5" y2="488"/><line x1="53" y1="25.5" x2="62" y2="25.5"/><line x1="53" y1="63.5" x2="62" y2="63.5"/><line x1="53" y1="101.5" x2="62" y2="101.5"/><line x1="53" y1="139.5" x2="62" y2="139.5"/><line x1="53" y1="177.5" x2="62" y2="177.5"/><line x1="53" y1="215.5" x2="62" y2="215.5"/><line x1="53" y1="254.5" x2="62" y2="254.5"/><line x1="53" y1="292.5" x2="62" y2="292.5"/><line x1="53" y1="330.5" x2="62" y2="330.5"/><line x1="53" y1="368.5" x2="62" y2="368.5"/><line x1="53" y1="406.5" x2="62" y2="406.5"/><line x1="53" y1="444.5" x2="62" y2="444.5"/><line x1="53" y1="482.5" x2="62" y2="482.5"/><line x1="135.5" y1="479" x2="135.5" y2="488"/><line x1="213.5" y1="479" x2="213.5" y2="488"/><line x1="290.5" y1="479" x2="290.5" y2="488"/><line x1="367.5" y1="479" x2="367.5" y2="488"/><line x1="444.5" y1="479" x2="444.5" y2="488"/><line x1="522.5" y1="479" x2="522.5" y2="488"/><line x1="599.5" y1="479" x2="599.5" y2="488"/><line x1="676.5" y1="479" x2="676.5" y2="488"/><line x1="753.5" y1="479" x2="753.5" y2="488"/><line x1="831.5" y1="479" x2="831.5" y2="488"/><line x1="908.5" y1="479" x2="908.5" y2="488"/></g>
<g font-family="Liberation Sans, sans-serif" font-size="8.7" fill="#000" stroke="#000" stroke-width="0.2"><text x="28.08 33.08 38.08 43.08" y="27.8">6000</text><text x="28.08 33.08 38.08 43.08" y="65.8">5400</text><text x="28.08 33.08 38.08 43.08" y="103.8">4800</text><text x="28.08 33.08 38.08 43.08" y="141.8">4200</text><text x="28.08 33.08 38.08 43.08" y="179.8">3600</text><text x="28.08 33.08 38.08 43.08" y="217.8">3000</text><text x="28.08 33.08 38.08 43.08" y="256.8">2400</text><text x="28.08 33.08 38.08 43.08" y="294.8">1800</text><text x="28.08 33.08 38.08 43.08" y="332.8">1200</text><text x="33.08 38.08 43.08" y="370.8">600</text><text x="43.08" y="408.8">0</text><text x="27.96 33.08 38.08 43.08" y="446.8">−600</text><text x="22.96 28.08 33.08 38.08 43.08" y="484.8">−1200</text></g>
<g font-family="Liberation Sans, sans-serif" font-size="8.7" fill="#000" stroke="#000" stroke-width="0.3"><text transform="translate(60.8,492.6) rotate(-90)" x="-84.92 -79.92 -73.95 -69.92 -64.92 -58.95 -54.92 -49.92 -44.92 -39.92 -33.71 -30.00 -24.92 -19.92 -13.71 -9.92 -4.92" y="0">21-12-2025, 15:47</text><text transform="translate(137.8,492.6) rotate(-90)" x="-84.92 -79.92 -73.95 -69.92 -64.92 -58.95 -54.92 -49.92 -44.92 -39.92 -33.71 -30.00 -24.92 -19.92 -13.71 -9.92 -4.92" y="0">21-12-2025, 17:47</text><text transform="translate(215.8,492.6) rotate(-90)" x="-84.92 -79.92 -73.95 -69.92 -64.92 -58.95 -54.92 -49.92 -44.92 -39.92 -33.71 -30.00 -24.92 -19.92 -13.71 -9.92 -4.92" y="0">21-12-2025, 19:47</text><text transform="translate(292.8,492.6) rotate(-90)" x="-84.92 -79.92 -73.95 -69.92 -64.92 -58.95 -54.92 -49.92 -44.92 -39.92 -33.71 -30.00 -24.92 -19.92 -13.71 -9.92 -4.92" y="0">21-12-2025, 21:47</text><text transform="translate(369.8,492.6) rotate(-90)" x="-84.92 -79.92 -73.95 -69.92 -64.92 -58.95 -54.92 -49.92 -44.92 -39.92 -33.71 -30.00 -24.92 -19.92 -13.71 -9.92 -4.92" y="0">21-12-2025, 23:47</text><text transform="translate(446.8,492.6) rotate(-90)" x="-84.92 -79.92 -73.95 -69.92 -64.92 -58.95 -54.92 -49.92 -44.92 -39.92 -33.71 -30.00 -24.92 -19.92 -13.71 -9.92 -4.92" y="0">22-12-2025, 01:47</text><text transform="translate(524.8,492.6) rotate(-90)" x="-84.92 -79.92 -73.95 -69.92 -64.92 -58.95 -54.92 -49.92 -44.92 -39.92 -33.71 -30.00 -24.92 -19.92 -13.71 -9.92 -4.92" y="0">22-12-2025, 03:47</text><text transform="translate(601.8,492.6) rotate(-90)" x="-84.92 -79.92 -73.95 -69.92 -64.92 -58.95 -54.92 -49.92 -44.92 -39.92 -33.71 -30.00 -24.92 -19.92 -13.71 -9.92 -4.92" y="0">22-12-2025, 05:47</text><text transform="translate(678.8,492.6) rotate(-90)" x="-84.92 -79.92 -73.95 -69.92 -64.92 -58.95 -54.92 -49.92 -44.92 -39.92 -33.71 -30.00 -24.92 -19.92 -13.71 -9.92 -4.92" y="0">22-12-2025, 07:47</text><text transform="translate(755.8,492.6) rotate(-90)" x="-84.92 -79.92 -73.95 -69.92 -64.92 -58.95 -54.92 -49.92 -44.92 -39.92 -33.71 -30.00 -24.92 -19.92 -13.71 -9.92 -4.92" y="0">22-12-2025, 09:47</text><text transform="translate(833.8,492.6) rotate(-90)" x="-84.92 -79.92 -73.95 -69.92 -64.92 -58.95 -54.92 -49.92 -44.92 -39.92 -33.71 -30.00 -24.92 -19.92 -13.71 -9.92 -4.92" y="0">22-12-2025, 11:47</text><text transform="translate(910.8,492.6) rotate(-90)" x="-84.92 -79.92 -73.95 -69.92 -64.92 -58.95 -54.92 -49.92 -44.92 -39.92 -33.71 -30.00 -24.92 -19.92 -13.71 -9.92 -4.92" y="0">22-12-2025, 13:47</text><text transform="translate(987.8,492.6) rotate(-90)" x="-84.92 -79.92 -73.95 -69.92 -64.92 -58.95 -54.92 -49.92 -44.92 -39.92 -33.71 -30.00 -24.92 -19.92 -13.71 -9.92 -4.92" y="0">22-12-2025, 15:47</text></g>
<text class="t" x="500" y="18" font-size="15" font-weight="bold" text-anchor="middle">Verlauf für 1 Tag</text>
<text class="t" transform="translate(17,254.5) rotate(-90) scale(1,1.17)" font-size="11.67" font-weight="bold" text-anchor="middle">Watt</text>
<text class="t" transform="translate(520.5,593) scale(1,1.17)" font-size="11.67" font-weight="bold" text-anchor="middle">Zeit</text>
<g class="t" font-size="10" fill="#000" stroke="#000" stroke-width="0.1"><rect x="50.5" y="5.5" width="138" height="166" fill="#d2dde1" stroke="#000" stroke-width="1" shape-rendering="crispEdges"/><text transform="matrix(1,0,0,1.25,55.5,24.8)" xml:space="preserve">SOC:</text><text transform="matrix(1,0,0,1.25,0,24.8)"><tspan x="146.44" font-family="Liberation Sans, sans-serif" font-size="9.2">1</tspan><tspan x="152.44" font-family="Liberation Sans, sans-serif" font-size="9.2">0</tspan><tspan x="158.44" font-family="Liberation Sans, sans-serif" font-size="9.2">0</tspan><tspan x="164.00">%</tspan></text><rect x="176.5" y="12.5" width="6" height="15" fill="#00ff00" stroke="#000" stroke-width="1" shape-rendering="crispEdges"/><text transform="matrix(1,0,0,1.25,55.5,41.8)" xml:space="preserve">PV Leistung:</text><text transform="matrix(1,0,0,1.25,0,41.8)"><tspan x="158.44" font-family="Liberation Sans, sans-serif" font-size="9.2">0</tspan><tspan x="164.00">W</tspan></text><rect x="176.5" y="29.5" width="6" height="15" fill="#ffff00" stroke="#000" stroke-width="1" shape-rendering="crispEdges"/><text transform="matrix(1,0,0,1.25,55.5,58.8)" xml:space="preserve">PV max.:</text><text transform="matrix(1,0,0,1.25,0,58.8)"><tspan x="158.44" font-family="Liberation Sans, sans-serif" font-size="9.2">9</tspan><tspan x="164.00">W</tspan></text><rect x="176.5" y="46.5" width="6" height="15" fill="#ffa500" stroke="#000" stroke-width="1" shape-rendering="crispEdges"/><text transform="matrix(1,0,0,1.25,55.5,75.8)" xml:space="preserve">AC load:</text><text transform="matrix(1,0,0,1.25,0,75.8)"><tspan x="146.44" font-family="Liberation Sans, sans-serif" font-size="9.2">6</tspan><tspan x="152.44" font-family="Liberation Sans, sans-serif" font-size="9.2">0</tspan><tspan x="158.44" font-family="Liberation Sans, sans-serif" font-size="9.2">7</tspan><tspan x="164.00">W</tspan></text><rect x="176.5" y="63.5" width="6" height="15" fill="#0000ff" stroke="#000" stroke-width="1" shape-rendering="crispEdges"/><text transform="matrix(1,0,0,1.25,55.5,92.8)" xml:space="preserve">Netzbezug:</text><text transform="matrix(1,0,0,1.25,0,92.8)"><tspan x="146.44" font-family="Liberation Sans, sans-serif" font-size="9.2">7</tspan><tspan x="152.44" font-family="Liberation Sans, sans-serif" font-size="9.2">0</tspan><tspan x="158.44" font-family="Liberation Sans, sans-serif" font-size="9.2">5</tspan><tspan x="164.00">W</tspan></text><rect x="176.5" y="80.5" width="6" height="15" fill="#ff0000" stroke="#000" stroke-width="1" shape-rendering="crispEdges"/><text transform="matrix(1,0,0,1.25,55.5,109.8)" xml:space="preserve">Akku +:</text><text transform="matrix(1,0,0,1.25,0,109.8)"><tspan x="158.44" font-family="Liberation Sans, sans-serif" font-size="9.2">0</tspan><tspan x="164.00">W</tspan></text><rect x="176.5" y="97.5" width="6" height="15" fill="#00ff00" stroke="#000" stroke-width="1" shape-rendering="crispEdges"/><text transform="matrix(1,0,0,1.25,55.5,126.8)" xml:space="preserve">Akku -:</text><text transform="matrix(1,0,0,1.25,0,126.8)"><tspan x="158.44" font-family="Liberation Sans, sans-serif" font-size="9.2">0</tspan><tspan x="164.00">W</tspan></text><rect x="176.5" y="114.5" width="6" height="15" fill="#ff0000" stroke="#000" stroke-width="1" shape-rendering="crispEdges"/><text transform="matrix(1,0,0,1.25,55.5,143.8)" xml:space="preserve"> PV V:</text><text transform="matrix(1,0,0,1.25,0,143.8)"><tspan x="152.44" font-family="Liberation Sans, sans-serif" font-size="9.2">5</tspan><tspan x="158.44" font-family="Liberation Sans, sans-serif" font-size="9.2">8</tspan><tspan x="164.00">V</tspan></text><rect x="176.5" y="131.5" width="6" height="15" fill="#ffc0cb" stroke="#000" stroke-width="1" shape-rendering="crispEdges"/><text transform="matrix(1,0,0,1.25,55.5,160.8)" xml:space="preserve">Akku V:</text><text transform="matrix(1,0,0,1.25,0,160.8)"><tspan x="134.44" font-family="Liberation Sans, sans-serif" font-size="9.2">5</tspan><tspan x="140.44" font-family="Liberation Sans, sans-serif" font-size="9.2">1</tspan><tspan x="147.72" font-family="Liberation Sans, sans-serif" font-size="9.2">.</tspan><tspan x="152.44" font-family="Liberation Sans, sans-serif" font-size="9.2">8</tspan><tspan x="158.44" font-family="Liberation Sans, sans-serif" font-size="9.2">2</tspan><tspan x="164.00">V</tspan></text><rect x="176.5" y="148.5" width="6" height="15" fill="#ff0000" stroke="#000" stroke-width="1" shape-rendering="crispEdges"/></g>
</svg>
</body></html>
